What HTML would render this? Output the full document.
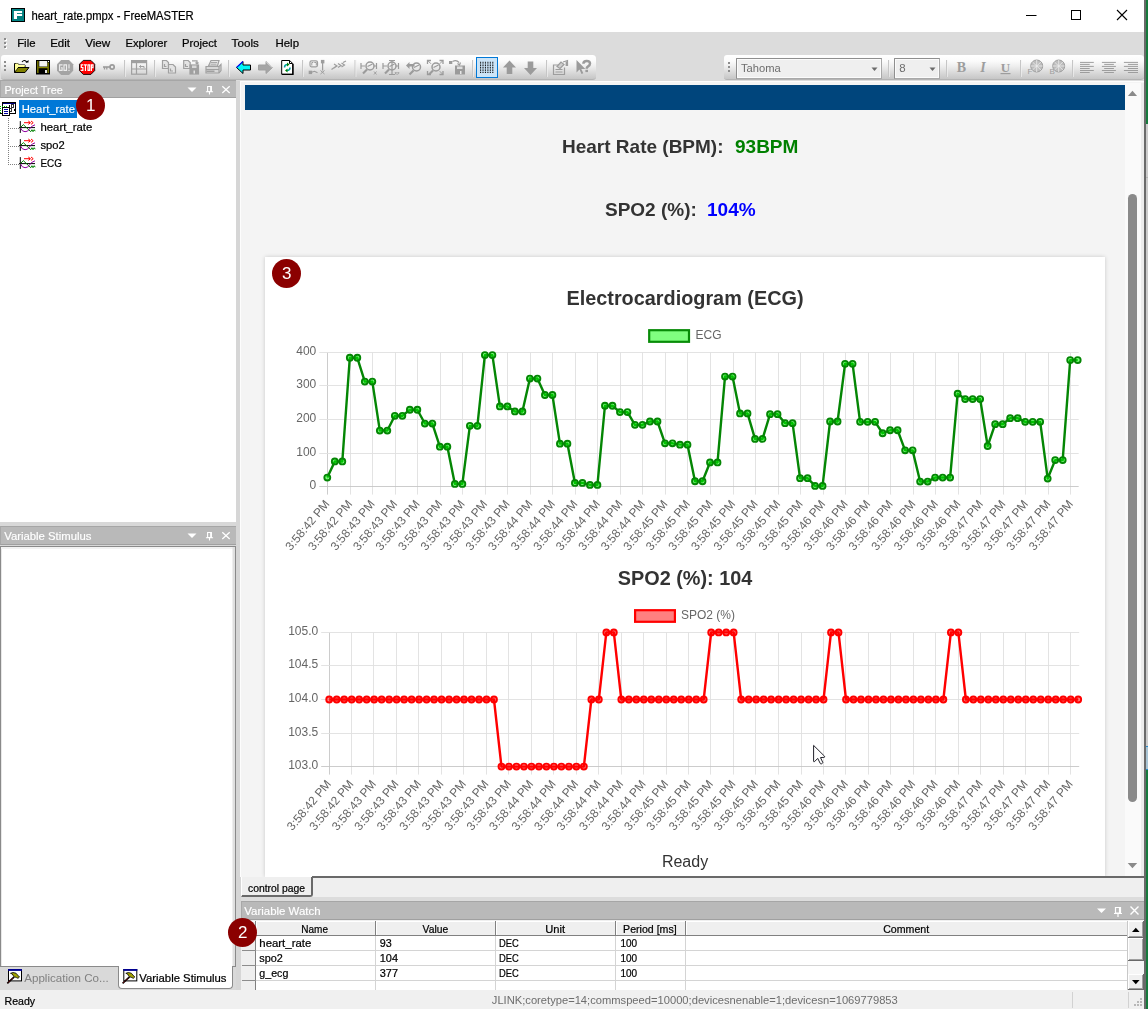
<!DOCTYPE html>
<html><head><meta charset="utf-8"><title>heart_rate.pmpx - FreeMASTER</title>
<style>
*{box-sizing:border-box;margin:0;padding:0}
html,body{width:1148px;height:1009px;overflow:hidden;background:#dcdcdc;font-family:"Liberation Sans",sans-serif;font-size:12px;color:#000}
.abs{position:absolute}
#app{position:absolute;left:0;top:0;width:1148px;height:1009px;overflow:hidden}
#titlebar{left:0;top:0;width:1145px;height:32px;background:#fff}
#title{left:31.4px;top:8.6px;font-size:12.5px;line-height:15px;white-space:nowrap;transform-origin:0 0;transform:scaleX(.903)}
#menubar{left:0;top:32px;width:1145px;height:23px;background:#dcdcdc}
.mi{position:absolute;top:4px;font-size:12px;line-height:15px;white-space:nowrap;transform-origin:0 0;transform:scaleX(.95)}
.tb{position:absolute;top:55px;height:24.8px;background:linear-gradient(#ffffff 0%,#fbfbfb 25%,#ececec 50%,#d6d6d6 78%,#c6c6c6 100%);border-bottom:1px solid #b4b4b4;border-radius:3px 3.5px 3.5px 3px}
.grip{position:absolute;width:3px}
.grip i{position:absolute;left:0;width:2px;height:2px;background:#8c8c8c;box-shadow:1px 1px 0 #fff}
.hdr{position:absolute;background:#b9b9b9;border-top:1px solid #a6a6a6;border-bottom:1px solid #a0a0a0;border-left:1px solid #a8a8a8;color:#f2f2f2;font-size:12px;line-height:15px;padding-left:4px;white-space:nowrap}
.tree{font-size:12px;line-height:15px;white-space:nowrap}
.marker{will-change:transform;position:absolute;width:29.4px;height:29.4px;border-radius:50%;background:#8b0000;color:#fff;font-size:17px;line-height:29.4px;text-align:center}
.tk{font-family:"Liberation Sans",sans-serif;font-size:12px;fill:#666}
.h3{will-change:transform;position:absolute;font-weight:bold;font-size:19px;line-height:22px;color:#333;white-space:nowrap}
.cell{position:absolute;font-size:11px;line-height:13px;white-space:nowrap}
</style></head><body>
<div id="app">

<!-- right desktop strip -->
<div class="abs" style="left:1145px;top:0;width:3px;height:1009px;background:#cbcbcb"></div>
<div class="abs" style="left:1145px;top:0;width:3px;height:123.5px;background:#157a3c"></div><div class="abs" style="left:1145px;top:177px;width:3px;height:1px;background:#b4b4b4"></div>
<div class="abs" style="left:1145px;top:746px;width:3px;height:24px;background:#a8c4d4;border-top:1px solid #2a8ac8;border-bottom:1px solid #2a8ac8"></div>
<div class="abs" style="left:1145px;top:770px;width:3px;height:239px;background:#157a3c"></div>

<!-- title bar -->
<div id="titlebar" class="abs"></div>
<svg class="abs" style="left:11px;top:8px" width="14" height="14" viewBox="0 0 14 14"><rect x="0" y="0" width="14" height="14" fill="#000"/><rect x="1" y="1" width="12" height="12" fill="#008a8a"/><rect x="1.600" y="1.600" width="10.800" height="10.800" fill="#007e7e"/><path d="M2.900 2.900H11.100V5H6V5.900H11.100V8H6V11.100H2.900Z" fill="#fff"/><rect x="6" y="5" width="5.100" height=".9" fill="#20908f"/></svg>
<svg class="abs" style="left:1020px;top:0" width="125" height="32" viewBox="0 0 125 32"><path d="M6 15.5h10.500" stroke="#000" stroke-width="1" fill="none"/><rect x="51.5" y="10.5" width="9" height="9" fill="none" stroke="#000"/><path d="M97 10l10 10M107 10l-10 10" stroke="#000" stroke-width="1.1" fill="none"/></svg>

<!-- menu bar -->
<div id="menubar" class="abs">
<div class="grip" style="left:4px;top:5.5px;height:14px"><i style="top:0"></i><i style="top:4px"></i><i style="top:8px"></i></div>
</div>

<!-- toolbars -->
<div class="tb" style="left:1px;width:594.8px"></div>
<div class="tb" style="left:724px;width:420px"></div>
<svg class="abs" style="left:0;top:55px" width="1145" height="25" viewBox="0 55 1145 25" shape-rendering="auto">
<defs>
<g id="sep"><rect x="0" y="60" width="1" height="17" fill="#c6c6c6"/><rect x="1" y="60" width="1" height="17" fill="#f4f4f4" opacity=".6"/></g>
<g id="grip3"><rect x="0" y="0" width="2" height="2" fill="#8e8e8e"/><rect x="0" y="4" width="2" height="2" fill="#8e8e8e"/><rect x="0" y="8" width="2" height="2" fill="#8e8e8e"/><rect x="1" y="1" width="2" height="2" fill="#fff" opacity=".0"/></g>
<g id="mag"><circle cx="9" cy="6" r="4" fill="none" stroke="#9b9b9b" stroke-width="1.5"/><path d="M6 9.500l-4 4" stroke="#9b9b9b" stroke-width="2.200"/><path d="M6.500 6.500l5-2.500" stroke="#9b9b9b" stroke-width="1.200"/></g>
</defs>
<!-- toolbar 1 -->
<use href="#grip3" x="4" y="61"/>
<!-- open folder -->
<g>
<path d="M14.500 72.500v-9h3.500l1 1.500h6v2.500" fill="#ffff7a" stroke="#000" stroke-width="1"/>
<path d="M14.500 72.500l3.500-5h11l-4 5z" fill="#808000" stroke="#000" stroke-width="1" stroke-linejoin="miter"/>
<path d="M15.500 71l2.800-4.500h6.500v-1.500h-6l-1-1.500h-2.300z" fill="#ffffa0"/>
<path d="M22 62q2.500-3 5 0.300" fill="none" stroke="#000" stroke-width="1.100"/><path d="M25.500 62.500h3v-2.500z" fill="#000"/>
</g>
<!-- floppy -->
<g>
<rect x="36.500" y="60.500" width="13" height="13.500" fill="#000" stroke="#000" stroke-width="1"/>
<rect x="37.200" y="61" width="1.300" height="12" fill="#8a8a00"/><rect x="47.500" y="62.500" width="1.300" height="10.500" fill="#8a8a00"/>
<rect x="38.500" y="66.800" width="9.500" height="1.400" fill="#8a8a00"/>
<rect x="39.300" y="61" width="7.900" height="5.500" fill="#f2f2f2"/>
<rect x="45" y="70" width="2" height="3" fill="#e6e6e6"/><rect x="48" y="61" width="1" height="1" fill="#fff"/>
</g>
<!-- GO -->
<g><path d="M61.200 60h7.800l4.200 4.200v6.500l-4.200 4.200h-7.800l-4.200-4.200v-6.500z" fill="#a4a4a4"/>
<path d="M62.600 64.800H59.600V70.300H62.100V67.700H61M64 64.800H66.500V70.300H64ZM69 64.200V68.500M69 69.700V70.900" fill="none" stroke="#ececec" stroke-width="1.150"/></g>
<!-- STOP -->
<g><path d="M83.300 60.400h7.600l3.800 3.800v6.400l-3.800 3.800h-7.600l-3.800-3.800v-6.400z" fill="#f00" stroke="#000" stroke-width=".9"/>
<path d="M83.400 64.800H81.300V67.500H82.900V70.300H80.700M84 64.800H86.900M85.450 64.800V70.900M88 64.800H89.700V70.300H88ZM91.400 70.900V64.800H93V67.700H91.400" fill="none" stroke="#fff" stroke-width="1.150"/></g>
<!-- key -->
<g fill="none" stroke="#9b9b9b"><circle cx="112.100" cy="67" r="2.100" stroke-width="1.700"/><path d="M103 67h7" stroke-width="1.600"/><path d="M104.500 67v2.600M106.800 67v2.400" stroke-width="1.300"/></g>
<use href="#sep" x="124"/>
<!-- layout icon -->
<g fill="none" stroke="#a0a0a0" stroke-width="1.200"><rect x="131.600" y="60.600" width="15" height="13.600"/><path d="M131.600 62h15" stroke-width="2.400"/><path d="M136.500 62.500v11.500M131.600 69h15"/><path d="M139.500 66.500h4.500v1.500M139.500 66.500l1.500-1.200M139.500 66.500l1.500 1.200" stroke-width="1"/></g>
<use href="#sep" x="154"/>
<!-- copy -->
<g fill="#e4e4e4" stroke="#a0a0a0" stroke-width="1.200"><path d="M162.500 60.500h4l2 2v6h-6z"/><path d="M168.500 64.500h4.500l2.500 2.500v6h-7z"/><path d="M164.500 64v2.500h2M170.500 68.500v2.500h2.500" fill="none"/></g>
<!-- copy to disk -->
<g fill="#e4e4e4" stroke="#a0a0a0" stroke-width="1.200"><path d="M183.700 60.500h4.500l2 2v6h-6.500z"/><path d="M185.500 64v2.500h2.500" fill="none"/><rect x="190" y="65" width="8.500" height="9" fill="#a0a0a0"/><path d="M192 60.800h5v2.500M195.500 62.500l1.500 1.500 1.500-1.500" fill="none"/><rect x="192" y="65.500" width="4.500" height="2.500" fill="#d8d8d8" stroke="none"/><rect x="193.500" y="70.500" width="1.500" height="3" fill="#e0e0e0" stroke="none"/></g>
<!-- printer -->
<g fill="#e6e6e6" stroke="#a0a0a0" stroke-width="1.200"><path d="M208.500 66l2.500-5.500h8l-1.500 5.500z"/><path d="M206 66.500h13l2-2v6l-2 2.500h-13z" fill="#d8d8d8"/><path d="M206 69.500h13M219 66.500v6.500" fill="none"/><path d="M211 62.500h6M210.500 64.200h6" stroke-width=".9"/><rect x="206.500" y="70.500" width="8" height="1.500" fill="#a0a0a0" stroke="none"/></g>
<use href="#sep" x="228"/>
<!-- back arrow -->
<path d="M236.500 67.500l6.500-6v3.500h7.500v5h-7.500v3.500z" fill="#00f6f6" stroke="#000" stroke-width="1" stroke-linejoin="miter"/><path d="M236.600 67.300l6.300-5.800" stroke="#0000ff" stroke-width="1.100"/>
<!-- forward arrow -->
<path d="M272.500 67.500l-6.500-6v3.500h-7.500v5h7.500v3.500z" fill="#a6a6a6" stroke="#a0a0a0" stroke-width="1"/><path d="M266.300 62l6 5.500" stroke="#e8e8e8" stroke-width="1"/>
<!-- refresh -->
<g><path d="M281.700 60.500h8l3 3v10.800h-11z" fill="#fff" stroke="#000" stroke-width="1"/><path d="M282 74.300h11v-10.300" fill="none" stroke="#000" stroke-width="1.300"/><path d="M289.500 60.500v3h3" fill="none" stroke="#000" stroke-width="1"/>
<path d="M284.500 67.500q0-3 3-3" fill="none" stroke="#00a0a0" stroke-width="1.500"/><path d="M287 62.500l2.500 2-2.500 2z" fill="#008000"/>
<path d="M290 67.500q0 3-3 3" fill="none" stroke="#00a0a0" stroke-width="1.500"/><path d="M287.500 68.500l-2.500 2 2.500 2z" fill="#008000"/></g>
<use href="#sep" x="302"/>
<!-- stimulus icon -->
<g fill="none" stroke="#9d9d9d" stroke-width="1.200"><rect x="310" y="60.800" width="7.500" height="6" rx="1.500"/><path d="M311.800 65.500v-3h1.500M314.300 62.500h2v3" stroke-width="1"/><rect x="309.300" y="71.300" width="2.200" height="2.200" fill="#9d9d9d"/><path d="M311.500 72.300l3-1 3 1.500M322.600 62v8.500" /><rect x="321.500" y="60.500" width="2.300" height="2.300" fill="#9d9d9d"/><path d="M320.500 70.500l4 3.500M324.500 70.500l-4 3.500" stroke-width="1"/></g>
<!-- >>> icon -->
<g fill="none" stroke="#9d9d9d" stroke-width="1.200"><path d="M331.500 69.500l5-3.500M334 64l3 2-3 2M338 63.500l3 2-3 2M341.500 63l3 2-3 2M343 62.500l3-1.500"/></g>
<use href="#sep" x="354.500"/>
<!-- zoom icons -->
<g transform="translate(361,60)"><use href="#mag"/><path d="M0 3v6M15.500 3v6M0 6h4M13 6h2.500" stroke="#9b9b9b" stroke-width="1.200" fill="none"/><path d="M13 11.500l2.500 3M15.500 11.500l-2.500 3" stroke="#9b9b9b" stroke-width=".9"/></g>
<g transform="translate(383,60)"><use href="#mag"/><path d="M0 3v6M15.500 3v6M0 6h4M13 6h2.500M6 .5h6M9 .5v14M6 14.500h6" stroke="#9b9b9b" stroke-width="1.200" fill="none"/><path d="M12 12l1.500 2.500M13.500 12l-1.500 2.500M14.500 12l1.200 1.500M16 12l-1.500 2.800" stroke="#9b9b9b" stroke-width=".8"/></g>
<g transform="translate(406,60)"><g transform="translate(1.500,1)"><use href="#mag"/></g><path d="M0 4.500l3.500 3.500v-2.500h5v-2.500h-5v-2z" fill="#9b9b9b" transform="translate(0,1)"/></g>
<g transform="translate(427.500,60)"><g transform="translate(-.5,1)"><use href="#mag"/></g><path d="M0 4v-3.500h3.500M12 .5h3.500v3.500M15.500 11v3.500h-3.500M3.500 14.500h-3.500v-3.500" fill="none" stroke="#9b9b9b" stroke-width="1.300"/><path d="M.5.800l3 3M15.200.8l-3 3M15.200 14.200l-3-3" stroke="#9b9b9b" stroke-width="1"/></g>
<g><rect x="449" y="61" width="3.300" height="3" fill="#9b9b9b"/><path d="M452.500 61.500q4-2 6.500 1M457.500 63.500l2 1.500 1-2.500" fill="none" stroke="#9b9b9b" stroke-width="1.200"/><rect x="455" y="65.500" width="10" height="9" fill="#9b9b9b"/><rect x="457" y="66.500" width="5.500" height="2.500" fill="#dedede"/><rect x="460" y="71" width="1.500" height="3" fill="#e6e6e6"/></g>
<use href="#sep" x="472"/>
<!-- selected grid btn -->
<rect x="476.500" y="57.500" width="21" height="20" fill="#cce4f7" stroke="#0078d7" stroke-width="1"/>
<g fill="#000" id="dots"></g>
<rect x="480.00" y="61.80" width="1.15" height="0.95" fill="#000"/><rect x="480.00" y="63.49" width="1.15" height="0.95" fill="#000"/><rect x="480.00" y="65.18" width="1.15" height="0.95" fill="#000"/><rect x="480.00" y="66.87" width="1.15" height="0.95" fill="#000"/><rect x="480.00" y="68.56" width="1.15" height="0.95" fill="#000"/><rect x="480.00" y="70.25" width="1.15" height="0.95" fill="#000"/><rect x="480.00" y="71.94" width="1.15" height="0.95" fill="#000"/><rect x="482.44" y="61.80" width="1.15" height="0.95" fill="#000"/><rect x="482.44" y="63.49" width="1.15" height="0.95" fill="#000"/><rect x="482.44" y="65.18" width="1.15" height="0.95" fill="#000"/><rect x="482.44" y="66.87" width="1.15" height="0.95" fill="#000"/><rect x="482.44" y="68.56" width="1.15" height="0.95" fill="#000"/><rect x="482.44" y="70.25" width="1.15" height="0.95" fill="#000"/><rect x="482.44" y="71.94" width="1.15" height="0.95" fill="#000"/><rect x="484.88" y="61.80" width="1.15" height="0.95" fill="#000"/><rect x="484.88" y="63.49" width="1.15" height="0.95" fill="#000"/><rect x="484.88" y="65.18" width="1.15" height="0.95" fill="#000"/><rect x="484.88" y="66.87" width="1.15" height="0.95" fill="#000"/><rect x="484.88" y="68.56" width="1.15" height="0.95" fill="#000"/><rect x="484.88" y="70.25" width="1.15" height="0.95" fill="#000"/><rect x="484.88" y="71.94" width="1.15" height="0.95" fill="#000"/><rect x="487.32" y="61.80" width="1.15" height="0.95" fill="#000"/><rect x="487.32" y="63.49" width="1.15" height="0.95" fill="#000"/><rect x="487.32" y="65.18" width="1.15" height="0.95" fill="#000"/><rect x="487.32" y="66.87" width="1.15" height="0.95" fill="#000"/><rect x="487.32" y="68.56" width="1.15" height="0.95" fill="#000"/><rect x="487.32" y="70.25" width="1.15" height="0.95" fill="#000"/><rect x="487.32" y="71.94" width="1.15" height="0.95" fill="#000"/><rect x="489.76" y="61.80" width="1.15" height="0.95" fill="#000"/><rect x="489.76" y="63.49" width="1.15" height="0.95" fill="#000"/><rect x="489.76" y="65.18" width="1.15" height="0.95" fill="#000"/><rect x="489.76" y="66.87" width="1.15" height="0.95" fill="#000"/><rect x="489.76" y="68.56" width="1.15" height="0.95" fill="#000"/><rect x="489.76" y="70.25" width="1.15" height="0.95" fill="#000"/><rect x="489.76" y="71.94" width="1.15" height="0.95" fill="#000"/><rect x="492.20" y="61.80" width="1.15" height="0.95" fill="#000"/><rect x="492.20" y="63.49" width="1.15" height="0.95" fill="#000"/><rect x="492.20" y="65.18" width="1.15" height="0.95" fill="#000"/><rect x="492.20" y="66.87" width="1.15" height="0.95" fill="#000"/><rect x="492.20" y="68.56" width="1.15" height="0.95" fill="#000"/><rect x="492.20" y="70.25" width="1.15" height="0.95" fill="#000"/><rect x="492.20" y="71.94" width="1.15" height="0.95" fill="#000"/>
<!-- up arrow -->
<path d="M509.500 60.500l6.500 7h-3.700v6.500h-5.600v-6.500h-3.700z" fill="#9b9b9b"/>
<!-- down arrow -->
<path d="M530.500 75l6.500-7h-3.700v-6.500h-5.600v6.500h-3.700z" fill="#9b9b9b"/>
<use href="#sep" x="546"/>
<!-- properties -->
<g fill="none" stroke="#9d9d9d" stroke-width="1.200"><path d="M559 65h-5.500v9.500h11v-7"/><path d="M555.500 69.500h7M555.500 72h7" stroke-width="1"/><path d="M557 66.500l4-4.500 3 2.500-4 4z" fill="#cfcfcf"/><path d="M563 62l4.500-1.500v5.500" /><path d="M566.500 61.500v4.500" stroke-width="1.800"/></g>
<!-- help pointer -->
<g><path d="M576.500 60v12.500l3-3 2 4.500 1.800-.8-2-4.300h4z" fill="#9b9b9b"/><path d="M583.400 63.800q0-2.900 3.300-2.900t3.300 2.700q0 1.700-1.900 2.800-1.400.8-1.400 2.300" fill="none" stroke="#9b9b9b" stroke-width="2.500"/><rect x="585.400" y="69.800" width="2.600" height="2.300" fill="#9b9b9b"/></g>

<!-- toolbar 2 -->
<use href="#grip3" x="728" y="62"/>
<rect x="736.500" y="58.500" width="145" height="20" fill="#efefef" stroke="#a9a9a9"/><path d="M736.500 78.500v-20h145" fill="none" stroke="#8f8f8f"/><rect x="737.500" y="59.500" width="143" height="18" fill="none" stroke="#fbfbfb" stroke-width="1"/>
<path d="M871.500 67.500h6l-3 3.500z" fill="#6a6a6a"/>
<use href="#sep" x="888"/>
<rect x="894.500" y="58.500" width="45" height="20" fill="#efefef" stroke="#a9a9a9"/><path d="M894.500 78.500v-20h45" fill="none" stroke="#8f8f8f"/><rect x="895.500" y="59.500" width="43" height="18" fill="none" stroke="#fbfbfb" stroke-width="1"/>
<path d="M929.500 67.500h6l-3 3.500z" fill="#6a6a6a"/>
<use href="#sep" x="946"/>
<text x="961.500" y="72" text-anchor="middle" font-family="Liberation Serif" font-weight="bold" font-size="14" fill="#9d9d9d">B</text>
<text x="983" y="72" text-anchor="middle" font-family="Liberation Serif" font-weight="bold" font-style="italic" font-size="14" fill="#9d9d9d">I</text>
<text x="1005.500" y="71.500" text-anchor="middle" font-family="Liberation Serif" font-weight="bold" font-size="13" fill="#9d9d9d">U</text><rect x="1000.500" y="73" width="10" height="1.200" fill="#9d9d9d"/>
<use href="#sep" x="1020"/>
<g><circle cx="1036.7" cy="66" r="6" fill="#bdbdbd" stroke="#9d9d9d" stroke-width="1"/><path d="M1030.700 66h12M1036.700 60v12M1032.500 62l8.400 8M1040.900 62l-8.400 8" stroke="#ededed" stroke-width=".8"/><text x="1027.500" y="74.300" font-family="Liberation Sans" font-size="8" fill="#9d9d9d">F</text></g>
<g><circle cx="1058.700" cy="66" r="6" fill="#bdbdbd" stroke="#9d9d9d" stroke-width="1"/><path d="M1052.700 66h12M1058.700 60v12M1054.500 62l8.400 8M1062.900 62l-8.400 8" stroke="#ededed" stroke-width=".8"/><text x="1049.600" y="74.300" font-family="Liberation Sans" font-size="8" fill="#9d9d9d">B</text></g>
<use href="#sep" x="1072"/>
<g stroke="#9d9d9d" stroke-width="1" fill="none"><path d="M1080 62.4H1093.8M1080 64.4H1089.7M1080 66.4H1093.8M1080 68.5H1089.7M1080 70.5H1093.8M1080 72.5H1089.7"/><path d="M1101.9 62.4H1115.9M1104.2 64.4H1113.9M1101.9 66.4H1115.9M1104.2 68.5H1113.9M1101.9 70.5H1115.9M1104.2 72.5H1113.9"/><path d="M1123.9 62.4H1138M1127.9 64.4H1138M1123.9 66.4H1138M1127.9 68.5H1138M1123.9 70.5H1138M1127.9 72.5H1138"/></g>
</svg>


<!-- left dock -->
<div class="hdr" style="left:0;top:80px;width:235.700px;height:18.400px"></div>
<div class="abs" style="left:0;top:98px;width:236.2px;height:424px;background:#fff"></div>
<div class="abs" style="left:0;top:522px;width:236px;height:25px;background:#d8d8d8"></div>
<div class="hdr" style="left:0;top:526px;width:235.7px;height:19px"></div>
<div class="abs" style="left:0;top:546.4px;width:235.8px;height:420.5px;background:#fff;border:1px solid #8a8a8a;box-shadow:inset -2.5px 0 0 #e0e0e0,inset 0 2px 0 #f2f2f2,inset 1px 0 0 #e8e8e8"></div>
<svg class="abs" style="left:0;top:98px" width="236" height="80" viewBox="0 98 236 80">
<defs>
<g id="vicon">
<path d="M1.300 .1v11.800" stroke="#000" stroke-width="1" fill="none"/><path d="M0 6.600h16" stroke="#000" stroke-width="1" fill="none"/>
<path d="M5 1.700h6M9.300 0l2.200 1.700-2.200 1.700M12 0l2.200 1.700-2.200 1.700" stroke="#ff0000" stroke-width="1" fill="none"/>
<path d="M1.500 6.500l2.800-2.900 7.400 7.100 1.200-2 1.100 2 1.200-2 1 1.500" stroke="#008000" stroke-width="1" fill="none"/>
<path d="M1.500 7q1.500 3.700 4.500 3.700t4-2.200q1.500-2 3-3.200l3-1.500" stroke="#9000a0" stroke-width="1" fill="none"/>
</g>
</defs>
<rect x="19" y="100" width="58" height="18" fill="#0078d7"/>
<!-- root icon -->
<g shape-rendering="crispEdges">
<rect x="2.500" y="102.500" width="13" height="10.500" fill="#fff" stroke="#000" stroke-width="1"/>
<rect x="3" y="103" width="12" height="1" fill="#000080"/>
<rect x="9" y="105" width="1" height="2" fill="#000"/><rect x="11.500" y="104.500" width="2" height="2.500" fill="none" stroke="#000" stroke-width=".8"/>
<rect x="9.500" y="108.500" width="2" height="2.500" fill="none" stroke="#000" stroke-width=".8"/><rect x="13.500" y="108.500" width="1" height="2.500" fill="#000"/>
<rect x="2.500" y="107.500" width="7" height="8" fill="#fff" stroke="#000" stroke-width="1"/>
<path d="M4 109.500h4M4 111.500h4M4 113.500h4" stroke="#0000a0" stroke-width="1"/>
<path d="M.5 113v-7h6.500" fill="none" stroke="#00c000" stroke-width="1" stroke-dasharray="1 1"/>
<path d="M0 113.500h2.500" stroke="#000" stroke-width="1"/>
</g>
<path d="M8.500 118v47" stroke="#808080" stroke-width="1" stroke-dasharray="1 1" fill="none" shape-rendering="crispEdges"/>
<path d="M10 128.500h9M10 146.500h9M10 164.500h9" stroke="#808080" stroke-width="1" stroke-dasharray="1 1" fill="none" shape-rendering="crispEdges"/>
<use href="#vicon" x="19" y="121"/><use href="#vicon" x="19" y="139"/><use href="#vicon" x="19" y="157"/>
</svg>

<!-- dock header buttons -->
<svg class="abs" style="left:180px;top:81px" width="56" height="18" viewBox="180 81 56 18"><path d="M187.5 87.5h9l-4.5 4.5z" fill="#fff"/><path d="M207.6 86.5h3.8v5h-3.800z" fill="none" stroke="#fff" stroke-width="1.1"/><path d="M210.8 86.5v5" stroke="#fff" stroke-width="1.3"/><path d="M205.900 91.8h7.200M209.500 92v2.400" fill="none" stroke="#fff" stroke-width="1.1"/><path d="M222.300 86.3l7.400 6.700M229.700 86.3l-7.400 6.700" stroke="#fff" stroke-width="1.25"/></svg>
<svg class="abs" style="left:180px;top:527px" width="56" height="18" viewBox="180 527 56 18"><path d="M187.5 533.5h9l-4.5 4.5z" fill="#fff"/><path d="M207.6 532.5h3.8v5h-3.800z" fill="none" stroke="#fff" stroke-width="1.1"/><path d="M210.8 532.5v5" stroke="#fff" stroke-width="1.3"/><path d="M205.900 537.8h7.200M209.500 538v2.400" fill="none" stroke="#fff" stroke-width="1.1"/><path d="M222.300 532.3l7.400 6.700M229.700 532.3l-7.400 6.700" stroke="#fff" stroke-width="1.25"/></svg>

<!-- bottom tabs -->
<div class="abs" style="left:0;top:967px;width:236px;height:24px;background:#d9d9d9"></div>
<div class="abs" style="left:117.500px;top:966px;width:115px;height:22.500px;background:#fff;border:1px solid #8a8a8a;border-top:none;border-radius:0 0 4px 4px"></div>
<svg class="abs" style="left:0;top:966px" width="236" height="24" viewBox="0 966 236 24">
<defs><g id="ham"><rect x="1.500" y=".5" width="13" height="11.400" fill="#fff" stroke="#000" stroke-width="1"/><rect x="1" y="0" width="14" height="1.900" fill="#000090"/><path d="M.3 14.300L7.200 7.900" stroke="#000" stroke-width="1.700"/><path d="M.8 13.800L6.800 8.300" stroke="#b00000" stroke-width=".8" stroke-dasharray="1 1"/><path d="M3.500 4.300L6 3.500L9 4.200L11.500 7L12.500 8L11 9.300L9.500 8.600L7.500 7.800L6 6.500L5.300 5Z" fill="#a0a000" stroke="#000" stroke-width=".8"/></g></defs>
<use href="#ham" x="7" y="969"/><use href="#ham" x="122.300" y="969"/>
</svg>


<!-- splitter -->
<div class="abs" style="left:236px;top:81px;width:5px;height:910px;background:#d6d6d6"></div>

<!-- main view -->
<div class="abs" style="left:239.7px;top:80.6px;width:904.3px;height:796.4px;background:#f4f4f4;border-left:1.6px solid #fdfdfd;border-top:1.6px solid #fdfdfd"></div>
<div class="abs" style="left:245px;top:85px;width:880px;height:25px;background:#00457c"></div>
<div class="abs" style="left:265px;top:257px;width:840px;height:620px;background:#fff;box-shadow:0 0 4px rgba(0,0,0,.18)"></div>
<div class="abs" style="left:1125px;top:83px;width:16px;height:794px;background:#fafafa"></div>
<div class="abs" style="left:1141px;top:83px;width:3px;height:794px;background:#ececec"></div>
<div class="abs" style="left:1128.1px;top:193.7px;width:8.9px;height:608.3px;background:#8a8a8a;border-radius:4.5px"></div>
<svg class="abs" style="left:1125px;top:83px" width="16" height="794" viewBox="0 0 16 794"><path d="M2.900 12.900L7.500 7.700L12.100 12.900z" fill="#8a8a8a"/><path d="M2.700 780.100L7.450 785.200L12.200 780.100z" fill="#8a8a8a"/></svg>

<div class="h3" style="left:562px;top:135.6px">Heart Rate (BPM):</div>
<div class="h3" style="left:735px;top:135.6px;color:#008000">93BPM</div>
<div class="h3" style="left:604.5px;top:198.7px">SPO2 (%):</div>
<div class="h3" style="left:707.3px;top:198.7px;color:#0000ff">104%</div>
<div class="h3" style="left:385px;width:600px;text-align:center;top:286.5px;font-size:19.85px"><span id="ttl1">Electrocardiogram (ECG)</span></div>
<div class="h3" style="left:385px;width:600px;text-align:center;top:566.5px;font-size:19.85px"><span id="ttl2">SPO2 (%): 104</span></div>
<div class="abs" style="left:385px;width:600px;text-align:center;top:852.8px;font-size:16px;line-height:18px;color:#333;will-change:transform">Ready</div>

<svg class="abs" style="left:0;top:0;will-change:transform" width="1148" height="877" viewBox="0 0 1148 877">
<rect x="649.2" y="330.2" width="39.8" height="11.6" fill="#80ff80" stroke="#088c08" stroke-width="2.2"/>
<text x="695.500" y="339" class="tk">ECG</text>
<rect x="635.1" y="610.2" width="39.8" height="11.6" fill="#ff8080" stroke="#ff0000" stroke-width="2.2"/>
<text x="681" y="619" class="tk">SPO2 (%)</text>
<line x1="327.50" y1="352.40" x2="327.50" y2="494.60" stroke="#c6c6c6" stroke-width="0.9"/>
<line x1="350.50" y1="352.40" x2="350.50" y2="494.60" stroke="#e0e0e0" stroke-width="0.9"/>
<line x1="372.50" y1="352.40" x2="372.50" y2="494.60" stroke="#e0e0e0" stroke-width="0.9"/>
<line x1="395.50" y1="352.40" x2="395.50" y2="494.60" stroke="#e0e0e0" stroke-width="0.9"/>
<line x1="417.50" y1="352.40" x2="417.50" y2="494.60" stroke="#e0e0e0" stroke-width="0.9"/>
<line x1="440.50" y1="352.40" x2="440.50" y2="494.60" stroke="#e0e0e0" stroke-width="0.9"/>
<line x1="462.50" y1="352.40" x2="462.50" y2="494.60" stroke="#e0e0e0" stroke-width="0.9"/>
<line x1="485.50" y1="352.40" x2="485.50" y2="494.60" stroke="#e0e0e0" stroke-width="0.9"/>
<line x1="507.50" y1="352.40" x2="507.50" y2="494.60" stroke="#e0e0e0" stroke-width="0.9"/>
<line x1="530.50" y1="352.40" x2="530.50" y2="494.60" stroke="#e0e0e0" stroke-width="0.9"/>
<line x1="552.50" y1="352.40" x2="552.50" y2="494.60" stroke="#e0e0e0" stroke-width="0.9"/>
<line x1="575.50" y1="352.40" x2="575.50" y2="494.60" stroke="#e0e0e0" stroke-width="0.9"/>
<line x1="597.50" y1="352.40" x2="597.50" y2="494.60" stroke="#e0e0e0" stroke-width="0.9"/>
<line x1="620.50" y1="352.40" x2="620.50" y2="494.60" stroke="#e0e0e0" stroke-width="0.9"/>
<line x1="642.50" y1="352.40" x2="642.50" y2="494.60" stroke="#e0e0e0" stroke-width="0.9"/>
<line x1="665.50" y1="352.40" x2="665.50" y2="494.60" stroke="#e0e0e0" stroke-width="0.9"/>
<line x1="687.50" y1="352.40" x2="687.50" y2="494.60" stroke="#e0e0e0" stroke-width="0.9"/>
<line x1="710.50" y1="352.40" x2="710.50" y2="494.60" stroke="#e0e0e0" stroke-width="0.9"/>
<line x1="733.50" y1="352.40" x2="733.50" y2="494.60" stroke="#e0e0e0" stroke-width="0.9"/>
<line x1="755.50" y1="352.40" x2="755.50" y2="494.60" stroke="#e0e0e0" stroke-width="0.9"/>
<line x1="778.50" y1="352.40" x2="778.50" y2="494.60" stroke="#e0e0e0" stroke-width="0.9"/>
<line x1="800.50" y1="352.40" x2="800.50" y2="494.60" stroke="#e0e0e0" stroke-width="0.9"/>
<line x1="823.50" y1="352.40" x2="823.50" y2="494.60" stroke="#e0e0e0" stroke-width="0.9"/>
<line x1="845.50" y1="352.40" x2="845.50" y2="494.60" stroke="#e0e0e0" stroke-width="0.9"/>
<line x1="868.50" y1="352.40" x2="868.50" y2="494.60" stroke="#e0e0e0" stroke-width="0.9"/>
<line x1="890.50" y1="352.40" x2="890.50" y2="494.60" stroke="#e0e0e0" stroke-width="0.9"/>
<line x1="913.50" y1="352.40" x2="913.50" y2="494.60" stroke="#e0e0e0" stroke-width="0.9"/>
<line x1="935.50" y1="352.40" x2="935.50" y2="494.60" stroke="#e0e0e0" stroke-width="0.9"/>
<line x1="958.50" y1="352.40" x2="958.50" y2="494.60" stroke="#e0e0e0" stroke-width="0.9"/>
<line x1="980.50" y1="352.40" x2="980.50" y2="494.60" stroke="#e0e0e0" stroke-width="0.9"/>
<line x1="1003.50" y1="352.40" x2="1003.50" y2="494.60" stroke="#e0e0e0" stroke-width="0.9"/>
<line x1="1025.50" y1="352.40" x2="1025.50" y2="494.60" stroke="#e0e0e0" stroke-width="0.9"/>
<line x1="1048.50" y1="352.40" x2="1048.50" y2="494.60" stroke="#e0e0e0" stroke-width="0.9"/>
<line x1="1070.50" y1="352.40" x2="1070.50" y2="494.60" stroke="#e0e0e0" stroke-width="0.9"/>
<line x1="319.30" y1="486.50" x2="1078.70" y2="486.50" stroke="#c6c6c6" stroke-width="0.9"/>
<text x="316.30" y="489.30" text-anchor="end" class="tk">0</text>
<line x1="319.30" y1="453.50" x2="1078.70" y2="453.50" stroke="#e0e0e0" stroke-width="0.9"/>
<text x="316.30" y="456.30" text-anchor="end" class="tk">100</text>
<line x1="319.30" y1="419.50" x2="1078.70" y2="419.50" stroke="#e0e0e0" stroke-width="0.9"/>
<text x="316.30" y="422.30" text-anchor="end" class="tk">200</text>
<line x1="319.30" y1="385.50" x2="1078.70" y2="385.50" stroke="#e0e0e0" stroke-width="0.9"/>
<text x="316.30" y="388.30" text-anchor="end" class="tk">300</text>
<line x1="319.30" y1="352.50" x2="1078.70" y2="352.50" stroke="#e0e0e0" stroke-width="0.9"/>
<text x="316.30" y="355.30" text-anchor="end" class="tk">400</text>
<text transform="translate(330.30,504.30) rotate(-50)" text-anchor="end" class="tk">3:58:42 PM</text>
<text transform="translate(352.83,504.30) rotate(-50)" text-anchor="end" class="tk">3:58:42 PM</text>
<text transform="translate(375.36,504.30) rotate(-50)" text-anchor="end" class="tk">3:58:43 PM</text>
<text transform="translate(397.89,504.30) rotate(-50)" text-anchor="end" class="tk">3:58:43 PM</text>
<text transform="translate(420.42,504.30) rotate(-50)" text-anchor="end" class="tk">3:58:43 PM</text>
<text transform="translate(442.95,504.30) rotate(-50)" text-anchor="end" class="tk">3:58:43 PM</text>
<text transform="translate(465.48,504.30) rotate(-50)" text-anchor="end" class="tk">3:58:43 PM</text>
<text transform="translate(488.01,504.30) rotate(-50)" text-anchor="end" class="tk">3:58:43 PM</text>
<text transform="translate(510.54,504.30) rotate(-50)" text-anchor="end" class="tk">3:58:43 PM</text>
<text transform="translate(533.07,504.30) rotate(-50)" text-anchor="end" class="tk">3:58:44 PM</text>
<text transform="translate(555.60,504.30) rotate(-50)" text-anchor="end" class="tk">3:58:44 PM</text>
<text transform="translate(578.13,504.30) rotate(-50)" text-anchor="end" class="tk">3:58:44 PM</text>
<text transform="translate(600.66,504.30) rotate(-50)" text-anchor="end" class="tk">3:58:44 PM</text>
<text transform="translate(623.19,504.30) rotate(-50)" text-anchor="end" class="tk">3:58:44 PM</text>
<text transform="translate(645.72,504.30) rotate(-50)" text-anchor="end" class="tk">3:58:44 PM</text>
<text transform="translate(668.25,504.30) rotate(-50)" text-anchor="end" class="tk">3:58:45 PM</text>
<text transform="translate(690.78,504.30) rotate(-50)" text-anchor="end" class="tk">3:58:45 PM</text>
<text transform="translate(713.31,504.30) rotate(-50)" text-anchor="end" class="tk">3:58:45 PM</text>
<text transform="translate(735.84,504.30) rotate(-50)" text-anchor="end" class="tk">3:58:45 PM</text>
<text transform="translate(758.37,504.30) rotate(-50)" text-anchor="end" class="tk">3:58:45 PM</text>
<text transform="translate(780.90,504.30) rotate(-50)" text-anchor="end" class="tk">3:58:45 PM</text>
<text transform="translate(803.43,504.30) rotate(-50)" text-anchor="end" class="tk">3:58:45 PM</text>
<text transform="translate(825.96,504.30) rotate(-50)" text-anchor="end" class="tk">3:58:46 PM</text>
<text transform="translate(848.49,504.30) rotate(-50)" text-anchor="end" class="tk">3:58:46 PM</text>
<text transform="translate(871.02,504.30) rotate(-50)" text-anchor="end" class="tk">3:58:46 PM</text>
<text transform="translate(893.55,504.30) rotate(-50)" text-anchor="end" class="tk">3:58:46 PM</text>
<text transform="translate(916.08,504.30) rotate(-50)" text-anchor="end" class="tk">3:58:46 PM</text>
<text transform="translate(938.61,504.30) rotate(-50)" text-anchor="end" class="tk">3:58:46 PM</text>
<text transform="translate(961.14,504.30) rotate(-50)" text-anchor="end" class="tk">3:58:46 PM</text>
<text transform="translate(983.67,504.30) rotate(-50)" text-anchor="end" class="tk">3:58:47 PM</text>
<text transform="translate(1006.20,504.30) rotate(-50)" text-anchor="end" class="tk">3:58:47 PM</text>
<text transform="translate(1028.73,504.30) rotate(-50)" text-anchor="end" class="tk">3:58:47 PM</text>
<text transform="translate(1051.26,504.30) rotate(-50)" text-anchor="end" class="tk">3:58:47 PM</text>
<text transform="translate(1073.79,504.30) rotate(-50)" text-anchor="end" class="tk">3:58:47 PM</text>
<polyline points="327.30,477.54 334.80,461.44 342.31,461.44 349.81,357.77 357.32,357.77 364.82,381.59 372.32,381.59 379.83,430.57 387.33,430.57 394.84,415.81 402.34,415.81 409.84,409.77 417.35,409.77 424.85,423.53 432.36,423.53 439.86,446.68 447.36,446.68 454.87,483.92 462.37,483.92 469.88,425.87 477.38,425.87 484.88,355.08 492.39,355.08 499.89,406.42 507.40,406.42 514.90,411.45 522.40,411.45 529.91,378.57 537.41,378.57 544.92,395.01 552.42,395.01 559.92,443.66 567.43,443.66 574.93,482.91 582.44,482.91 589.94,484.92 597.44,484.92 604.95,405.74 612.45,405.74 619.96,412.12 627.46,412.12 634.96,424.87 642.47,424.87 649.97,421.51 657.48,421.51 664.98,443.32 672.48,443.32 679.99,444.66 687.49,444.66 695.00,481.23 702.50,481.23 710.00,462.44 717.51,462.44 725.01,376.56 732.52,376.56 740.02,413.46 747.52,413.46 755.03,438.96 762.53,438.96 770.04,414.13 777.54,414.13 785.04,423.19 792.55,423.19 800.05,478.21 807.56,478.21 815.06,485.93 822.56,485.93 830.07,421.51 837.57,421.51 845.08,363.81 852.58,363.81 860.08,421.85 867.59,421.85 875.09,421.85 882.60,433.26 890.10,430.24 897.60,430.24 905.11,450.37 912.61,450.37 920.12,481.57 927.62,481.57 935.12,477.54 942.63,477.54 950.13,477.54 957.64,393.67 965.14,399.03 972.64,399.03 980.15,399.03 987.65,446.00 995.16,424.20 1002.66,424.20 1010.16,418.16 1017.67,418.16 1025.17,421.85 1032.68,421.85 1040.18,421.85 1047.68,478.55 1055.19,460.10 1062.69,460.10 1070.20,360.12 1077.70,360.12" fill="none" stroke="#048604" stroke-width="2.4" stroke-linejoin="round"/>
<circle cx="327.30" cy="477.54" r="2.95" fill="#00ff00" fill-opacity="0.5" stroke="#048604" stroke-width="1.9"/>
<circle cx="334.80" cy="461.44" r="2.95" fill="#00ff00" fill-opacity="0.5" stroke="#048604" stroke-width="1.9"/>
<circle cx="342.31" cy="461.44" r="2.95" fill="#00ff00" fill-opacity="0.5" stroke="#048604" stroke-width="1.9"/>
<circle cx="349.81" cy="357.77" r="2.95" fill="#00ff00" fill-opacity="0.5" stroke="#048604" stroke-width="1.9"/>
<circle cx="357.32" cy="357.77" r="2.95" fill="#00ff00" fill-opacity="0.5" stroke="#048604" stroke-width="1.9"/>
<circle cx="364.82" cy="381.59" r="2.95" fill="#00ff00" fill-opacity="0.5" stroke="#048604" stroke-width="1.9"/>
<circle cx="372.32" cy="381.59" r="2.95" fill="#00ff00" fill-opacity="0.5" stroke="#048604" stroke-width="1.9"/>
<circle cx="379.83" cy="430.57" r="2.95" fill="#00ff00" fill-opacity="0.5" stroke="#048604" stroke-width="1.9"/>
<circle cx="387.33" cy="430.57" r="2.95" fill="#00ff00" fill-opacity="0.5" stroke="#048604" stroke-width="1.9"/>
<circle cx="394.84" cy="415.81" r="2.95" fill="#00ff00" fill-opacity="0.5" stroke="#048604" stroke-width="1.9"/>
<circle cx="402.34" cy="415.81" r="2.95" fill="#00ff00" fill-opacity="0.5" stroke="#048604" stroke-width="1.9"/>
<circle cx="409.84" cy="409.77" r="2.95" fill="#00ff00" fill-opacity="0.5" stroke="#048604" stroke-width="1.9"/>
<circle cx="417.35" cy="409.77" r="2.95" fill="#00ff00" fill-opacity="0.5" stroke="#048604" stroke-width="1.9"/>
<circle cx="424.85" cy="423.53" r="2.95" fill="#00ff00" fill-opacity="0.5" stroke="#048604" stroke-width="1.9"/>
<circle cx="432.36" cy="423.53" r="2.95" fill="#00ff00" fill-opacity="0.5" stroke="#048604" stroke-width="1.9"/>
<circle cx="439.86" cy="446.68" r="2.95" fill="#00ff00" fill-opacity="0.5" stroke="#048604" stroke-width="1.9"/>
<circle cx="447.36" cy="446.68" r="2.95" fill="#00ff00" fill-opacity="0.5" stroke="#048604" stroke-width="1.9"/>
<circle cx="454.87" cy="483.92" r="2.95" fill="#00ff00" fill-opacity="0.5" stroke="#048604" stroke-width="1.9"/>
<circle cx="462.37" cy="483.92" r="2.95" fill="#00ff00" fill-opacity="0.5" stroke="#048604" stroke-width="1.9"/>
<circle cx="469.88" cy="425.87" r="2.95" fill="#00ff00" fill-opacity="0.5" stroke="#048604" stroke-width="1.9"/>
<circle cx="477.38" cy="425.87" r="2.95" fill="#00ff00" fill-opacity="0.5" stroke="#048604" stroke-width="1.9"/>
<circle cx="484.88" cy="355.08" r="2.95" fill="#00ff00" fill-opacity="0.5" stroke="#048604" stroke-width="1.9"/>
<circle cx="492.39" cy="355.08" r="2.95" fill="#00ff00" fill-opacity="0.5" stroke="#048604" stroke-width="1.9"/>
<circle cx="499.89" cy="406.42" r="2.95" fill="#00ff00" fill-opacity="0.5" stroke="#048604" stroke-width="1.9"/>
<circle cx="507.40" cy="406.42" r="2.95" fill="#00ff00" fill-opacity="0.5" stroke="#048604" stroke-width="1.9"/>
<circle cx="514.90" cy="411.45" r="2.95" fill="#00ff00" fill-opacity="0.5" stroke="#048604" stroke-width="1.9"/>
<circle cx="522.40" cy="411.45" r="2.95" fill="#00ff00" fill-opacity="0.5" stroke="#048604" stroke-width="1.9"/>
<circle cx="529.91" cy="378.57" r="2.95" fill="#00ff00" fill-opacity="0.5" stroke="#048604" stroke-width="1.9"/>
<circle cx="537.41" cy="378.57" r="2.95" fill="#00ff00" fill-opacity="0.5" stroke="#048604" stroke-width="1.9"/>
<circle cx="544.92" cy="395.01" r="2.95" fill="#00ff00" fill-opacity="0.5" stroke="#048604" stroke-width="1.9"/>
<circle cx="552.42" cy="395.01" r="2.95" fill="#00ff00" fill-opacity="0.5" stroke="#048604" stroke-width="1.9"/>
<circle cx="559.92" cy="443.66" r="2.95" fill="#00ff00" fill-opacity="0.5" stroke="#048604" stroke-width="1.9"/>
<circle cx="567.43" cy="443.66" r="2.95" fill="#00ff00" fill-opacity="0.5" stroke="#048604" stroke-width="1.9"/>
<circle cx="574.93" cy="482.91" r="2.95" fill="#00ff00" fill-opacity="0.5" stroke="#048604" stroke-width="1.9"/>
<circle cx="582.44" cy="482.91" r="2.95" fill="#00ff00" fill-opacity="0.5" stroke="#048604" stroke-width="1.9"/>
<circle cx="589.94" cy="484.92" r="2.95" fill="#00ff00" fill-opacity="0.5" stroke="#048604" stroke-width="1.9"/>
<circle cx="597.44" cy="484.92" r="2.95" fill="#00ff00" fill-opacity="0.5" stroke="#048604" stroke-width="1.9"/>
<circle cx="604.95" cy="405.74" r="2.95" fill="#00ff00" fill-opacity="0.5" stroke="#048604" stroke-width="1.9"/>
<circle cx="612.45" cy="405.74" r="2.95" fill="#00ff00" fill-opacity="0.5" stroke="#048604" stroke-width="1.9"/>
<circle cx="619.96" cy="412.12" r="2.95" fill="#00ff00" fill-opacity="0.5" stroke="#048604" stroke-width="1.9"/>
<circle cx="627.46" cy="412.12" r="2.95" fill="#00ff00" fill-opacity="0.5" stroke="#048604" stroke-width="1.9"/>
<circle cx="634.96" cy="424.87" r="2.95" fill="#00ff00" fill-opacity="0.5" stroke="#048604" stroke-width="1.9"/>
<circle cx="642.47" cy="424.87" r="2.95" fill="#00ff00" fill-opacity="0.5" stroke="#048604" stroke-width="1.9"/>
<circle cx="649.97" cy="421.51" r="2.95" fill="#00ff00" fill-opacity="0.5" stroke="#048604" stroke-width="1.9"/>
<circle cx="657.48" cy="421.51" r="2.95" fill="#00ff00" fill-opacity="0.5" stroke="#048604" stroke-width="1.9"/>
<circle cx="664.98" cy="443.32" r="2.95" fill="#00ff00" fill-opacity="0.5" stroke="#048604" stroke-width="1.9"/>
<circle cx="672.48" cy="443.32" r="2.95" fill="#00ff00" fill-opacity="0.5" stroke="#048604" stroke-width="1.9"/>
<circle cx="679.99" cy="444.66" r="2.95" fill="#00ff00" fill-opacity="0.5" stroke="#048604" stroke-width="1.9"/>
<circle cx="687.49" cy="444.66" r="2.95" fill="#00ff00" fill-opacity="0.5" stroke="#048604" stroke-width="1.9"/>
<circle cx="695.00" cy="481.23" r="2.95" fill="#00ff00" fill-opacity="0.5" stroke="#048604" stroke-width="1.9"/>
<circle cx="702.50" cy="481.23" r="2.95" fill="#00ff00" fill-opacity="0.5" stroke="#048604" stroke-width="1.9"/>
<circle cx="710.00" cy="462.44" r="2.95" fill="#00ff00" fill-opacity="0.5" stroke="#048604" stroke-width="1.9"/>
<circle cx="717.51" cy="462.44" r="2.95" fill="#00ff00" fill-opacity="0.5" stroke="#048604" stroke-width="1.9"/>
<circle cx="725.01" cy="376.56" r="2.95" fill="#00ff00" fill-opacity="0.5" stroke="#048604" stroke-width="1.9"/>
<circle cx="732.52" cy="376.56" r="2.95" fill="#00ff00" fill-opacity="0.5" stroke="#048604" stroke-width="1.9"/>
<circle cx="740.02" cy="413.46" r="2.95" fill="#00ff00" fill-opacity="0.5" stroke="#048604" stroke-width="1.9"/>
<circle cx="747.52" cy="413.46" r="2.95" fill="#00ff00" fill-opacity="0.5" stroke="#048604" stroke-width="1.9"/>
<circle cx="755.03" cy="438.96" r="2.95" fill="#00ff00" fill-opacity="0.5" stroke="#048604" stroke-width="1.9"/>
<circle cx="762.53" cy="438.96" r="2.95" fill="#00ff00" fill-opacity="0.5" stroke="#048604" stroke-width="1.9"/>
<circle cx="770.04" cy="414.13" r="2.95" fill="#00ff00" fill-opacity="0.5" stroke="#048604" stroke-width="1.9"/>
<circle cx="777.54" cy="414.13" r="2.95" fill="#00ff00" fill-opacity="0.5" stroke="#048604" stroke-width="1.9"/>
<circle cx="785.04" cy="423.19" r="2.95" fill="#00ff00" fill-opacity="0.5" stroke="#048604" stroke-width="1.9"/>
<circle cx="792.55" cy="423.19" r="2.95" fill="#00ff00" fill-opacity="0.5" stroke="#048604" stroke-width="1.9"/>
<circle cx="800.05" cy="478.21" r="2.95" fill="#00ff00" fill-opacity="0.5" stroke="#048604" stroke-width="1.9"/>
<circle cx="807.56" cy="478.21" r="2.95" fill="#00ff00" fill-opacity="0.5" stroke="#048604" stroke-width="1.9"/>
<circle cx="815.06" cy="485.93" r="2.95" fill="#00ff00" fill-opacity="0.5" stroke="#048604" stroke-width="1.9"/>
<circle cx="822.56" cy="485.93" r="2.95" fill="#00ff00" fill-opacity="0.5" stroke="#048604" stroke-width="1.9"/>
<circle cx="830.07" cy="421.51" r="2.95" fill="#00ff00" fill-opacity="0.5" stroke="#048604" stroke-width="1.9"/>
<circle cx="837.57" cy="421.51" r="2.95" fill="#00ff00" fill-opacity="0.5" stroke="#048604" stroke-width="1.9"/>
<circle cx="845.08" cy="363.81" r="2.95" fill="#00ff00" fill-opacity="0.5" stroke="#048604" stroke-width="1.9"/>
<circle cx="852.58" cy="363.81" r="2.95" fill="#00ff00" fill-opacity="0.5" stroke="#048604" stroke-width="1.9"/>
<circle cx="860.08" cy="421.85" r="2.95" fill="#00ff00" fill-opacity="0.5" stroke="#048604" stroke-width="1.9"/>
<circle cx="867.59" cy="421.85" r="2.95" fill="#00ff00" fill-opacity="0.5" stroke="#048604" stroke-width="1.9"/>
<circle cx="875.09" cy="421.85" r="2.95" fill="#00ff00" fill-opacity="0.5" stroke="#048604" stroke-width="1.9"/>
<circle cx="882.60" cy="433.26" r="2.95" fill="#00ff00" fill-opacity="0.5" stroke="#048604" stroke-width="1.9"/>
<circle cx="890.10" cy="430.24" r="2.95" fill="#00ff00" fill-opacity="0.5" stroke="#048604" stroke-width="1.9"/>
<circle cx="897.60" cy="430.24" r="2.95" fill="#00ff00" fill-opacity="0.5" stroke="#048604" stroke-width="1.9"/>
<circle cx="905.11" cy="450.37" r="2.95" fill="#00ff00" fill-opacity="0.5" stroke="#048604" stroke-width="1.9"/>
<circle cx="912.61" cy="450.37" r="2.95" fill="#00ff00" fill-opacity="0.5" stroke="#048604" stroke-width="1.9"/>
<circle cx="920.12" cy="481.57" r="2.95" fill="#00ff00" fill-opacity="0.5" stroke="#048604" stroke-width="1.9"/>
<circle cx="927.62" cy="481.57" r="2.95" fill="#00ff00" fill-opacity="0.5" stroke="#048604" stroke-width="1.9"/>
<circle cx="935.12" cy="477.54" r="2.95" fill="#00ff00" fill-opacity="0.5" stroke="#048604" stroke-width="1.9"/>
<circle cx="942.63" cy="477.54" r="2.95" fill="#00ff00" fill-opacity="0.5" stroke="#048604" stroke-width="1.9"/>
<circle cx="950.13" cy="477.54" r="2.95" fill="#00ff00" fill-opacity="0.5" stroke="#048604" stroke-width="1.9"/>
<circle cx="957.64" cy="393.67" r="2.95" fill="#00ff00" fill-opacity="0.5" stroke="#048604" stroke-width="1.9"/>
<circle cx="965.14" cy="399.03" r="2.95" fill="#00ff00" fill-opacity="0.5" stroke="#048604" stroke-width="1.9"/>
<circle cx="972.64" cy="399.03" r="2.95" fill="#00ff00" fill-opacity="0.5" stroke="#048604" stroke-width="1.9"/>
<circle cx="980.15" cy="399.03" r="2.95" fill="#00ff00" fill-opacity="0.5" stroke="#048604" stroke-width="1.9"/>
<circle cx="987.65" cy="446.00" r="2.95" fill="#00ff00" fill-opacity="0.5" stroke="#048604" stroke-width="1.9"/>
<circle cx="995.16" cy="424.20" r="2.95" fill="#00ff00" fill-opacity="0.5" stroke="#048604" stroke-width="1.9"/>
<circle cx="1002.66" cy="424.20" r="2.95" fill="#00ff00" fill-opacity="0.5" stroke="#048604" stroke-width="1.9"/>
<circle cx="1010.16" cy="418.16" r="2.95" fill="#00ff00" fill-opacity="0.5" stroke="#048604" stroke-width="1.9"/>
<circle cx="1017.67" cy="418.16" r="2.95" fill="#00ff00" fill-opacity="0.5" stroke="#048604" stroke-width="1.9"/>
<circle cx="1025.17" cy="421.85" r="2.95" fill="#00ff00" fill-opacity="0.5" stroke="#048604" stroke-width="1.9"/>
<circle cx="1032.68" cy="421.85" r="2.95" fill="#00ff00" fill-opacity="0.5" stroke="#048604" stroke-width="1.9"/>
<circle cx="1040.18" cy="421.85" r="2.95" fill="#00ff00" fill-opacity="0.5" stroke="#048604" stroke-width="1.9"/>
<circle cx="1047.68" cy="478.55" r="2.95" fill="#00ff00" fill-opacity="0.5" stroke="#048604" stroke-width="1.9"/>
<circle cx="1055.19" cy="460.10" r="2.95" fill="#00ff00" fill-opacity="0.5" stroke="#048604" stroke-width="1.9"/>
<circle cx="1062.69" cy="460.10" r="2.95" fill="#00ff00" fill-opacity="0.5" stroke="#048604" stroke-width="1.9"/>
<circle cx="1070.20" cy="360.12" r="2.95" fill="#00ff00" fill-opacity="0.5" stroke="#048604" stroke-width="1.9"/>
<circle cx="1077.70" cy="360.12" r="2.95" fill="#00ff00" fill-opacity="0.5" stroke="#048604" stroke-width="1.9"/>
<line x1="329.50" y1="632.40" x2="329.50" y2="774.60" stroke="#c6c6c6" stroke-width="0.9"/>
<line x1="351.50" y1="632.40" x2="351.50" y2="774.60" stroke="#e0e0e0" stroke-width="0.9"/>
<line x1="373.50" y1="632.40" x2="373.50" y2="774.60" stroke="#e0e0e0" stroke-width="0.9"/>
<line x1="396.50" y1="632.40" x2="396.50" y2="774.60" stroke="#e0e0e0" stroke-width="0.9"/>
<line x1="418.50" y1="632.40" x2="418.50" y2="774.60" stroke="#e0e0e0" stroke-width="0.9"/>
<line x1="441.50" y1="632.40" x2="441.50" y2="774.60" stroke="#e0e0e0" stroke-width="0.9"/>
<line x1="463.50" y1="632.40" x2="463.50" y2="774.60" stroke="#e0e0e0" stroke-width="0.9"/>
<line x1="486.50" y1="632.40" x2="486.50" y2="774.60" stroke="#e0e0e0" stroke-width="0.9"/>
<line x1="508.50" y1="632.40" x2="508.50" y2="774.60" stroke="#e0e0e0" stroke-width="0.9"/>
<line x1="531.50" y1="632.40" x2="531.50" y2="774.60" stroke="#e0e0e0" stroke-width="0.9"/>
<line x1="553.50" y1="632.40" x2="553.50" y2="774.60" stroke="#e0e0e0" stroke-width="0.9"/>
<line x1="576.50" y1="632.40" x2="576.50" y2="774.60" stroke="#e0e0e0" stroke-width="0.9"/>
<line x1="598.50" y1="632.40" x2="598.50" y2="774.60" stroke="#e0e0e0" stroke-width="0.9"/>
<line x1="621.50" y1="632.40" x2="621.50" y2="774.60" stroke="#e0e0e0" stroke-width="0.9"/>
<line x1="643.50" y1="632.40" x2="643.50" y2="774.60" stroke="#e0e0e0" stroke-width="0.9"/>
<line x1="666.50" y1="632.40" x2="666.50" y2="774.60" stroke="#e0e0e0" stroke-width="0.9"/>
<line x1="688.50" y1="632.40" x2="688.50" y2="774.60" stroke="#e0e0e0" stroke-width="0.9"/>
<line x1="710.50" y1="632.40" x2="710.50" y2="774.60" stroke="#e0e0e0" stroke-width="0.9"/>
<line x1="733.50" y1="632.40" x2="733.50" y2="774.60" stroke="#e0e0e0" stroke-width="0.9"/>
<line x1="755.50" y1="632.40" x2="755.50" y2="774.60" stroke="#e0e0e0" stroke-width="0.9"/>
<line x1="778.50" y1="632.40" x2="778.50" y2="774.60" stroke="#e0e0e0" stroke-width="0.9"/>
<line x1="801.50" y1="632.40" x2="801.50" y2="774.60" stroke="#e0e0e0" stroke-width="0.9"/>
<line x1="823.50" y1="632.40" x2="823.50" y2="774.60" stroke="#e0e0e0" stroke-width="0.9"/>
<line x1="845.50" y1="632.40" x2="845.50" y2="774.60" stroke="#e0e0e0" stroke-width="0.9"/>
<line x1="868.50" y1="632.40" x2="868.50" y2="774.60" stroke="#e0e0e0" stroke-width="0.9"/>
<line x1="890.50" y1="632.40" x2="890.50" y2="774.60" stroke="#e0e0e0" stroke-width="0.9"/>
<line x1="913.50" y1="632.40" x2="913.50" y2="774.60" stroke="#e0e0e0" stroke-width="0.9"/>
<line x1="935.50" y1="632.40" x2="935.50" y2="774.60" stroke="#e0e0e0" stroke-width="0.9"/>
<line x1="958.50" y1="632.40" x2="958.50" y2="774.60" stroke="#e0e0e0" stroke-width="0.9"/>
<line x1="980.50" y1="632.40" x2="980.50" y2="774.60" stroke="#e0e0e0" stroke-width="0.9"/>
<line x1="1003.50" y1="632.40" x2="1003.50" y2="774.60" stroke="#e0e0e0" stroke-width="0.9"/>
<line x1="1025.50" y1="632.40" x2="1025.50" y2="774.60" stroke="#e0e0e0" stroke-width="0.9"/>
<line x1="1048.50" y1="632.40" x2="1048.50" y2="774.60" stroke="#e0e0e0" stroke-width="0.9"/>
<line x1="1070.50" y1="632.40" x2="1070.50" y2="774.60" stroke="#e0e0e0" stroke-width="0.9"/>
<line x1="321.20" y1="766.50" x2="1079.20" y2="766.50" stroke="#c6c6c6" stroke-width="0.9"/>
<text x="318.20" y="769.30" text-anchor="end" class="tk">103.0</text>
<line x1="321.20" y1="733.50" x2="1079.20" y2="733.50" stroke="#e0e0e0" stroke-width="0.9"/>
<text x="318.20" y="736.30" text-anchor="end" class="tk">103.5</text>
<line x1="321.20" y1="699.50" x2="1079.20" y2="699.50" stroke="#e0e0e0" stroke-width="0.9"/>
<text x="318.20" y="702.30" text-anchor="end" class="tk">104.0</text>
<line x1="321.20" y1="665.50" x2="1079.20" y2="665.50" stroke="#e0e0e0" stroke-width="0.9"/>
<text x="318.20" y="668.30" text-anchor="end" class="tk">104.5</text>
<line x1="321.20" y1="632.50" x2="1079.20" y2="632.50" stroke="#e0e0e0" stroke-width="0.9"/>
<text x="318.20" y="635.30" text-anchor="end" class="tk">105.0</text>
<text transform="translate(331.80,784.30) rotate(-50)" text-anchor="end" class="tk">3:58:42 PM</text>
<text transform="translate(354.27,784.30) rotate(-50)" text-anchor="end" class="tk">3:58:42 PM</text>
<text transform="translate(376.74,784.30) rotate(-50)" text-anchor="end" class="tk">3:58:43 PM</text>
<text transform="translate(399.21,784.30) rotate(-50)" text-anchor="end" class="tk">3:58:43 PM</text>
<text transform="translate(421.68,784.30) rotate(-50)" text-anchor="end" class="tk">3:58:43 PM</text>
<text transform="translate(444.15,784.30) rotate(-50)" text-anchor="end" class="tk">3:58:43 PM</text>
<text transform="translate(466.62,784.30) rotate(-50)" text-anchor="end" class="tk">3:58:43 PM</text>
<text transform="translate(489.09,784.30) rotate(-50)" text-anchor="end" class="tk">3:58:43 PM</text>
<text transform="translate(511.56,784.30) rotate(-50)" text-anchor="end" class="tk">3:58:43 PM</text>
<text transform="translate(534.03,784.30) rotate(-50)" text-anchor="end" class="tk">3:58:44 PM</text>
<text transform="translate(556.50,784.30) rotate(-50)" text-anchor="end" class="tk">3:58:44 PM</text>
<text transform="translate(578.97,784.30) rotate(-50)" text-anchor="end" class="tk">3:58:44 PM</text>
<text transform="translate(601.44,784.30) rotate(-50)" text-anchor="end" class="tk">3:58:44 PM</text>
<text transform="translate(623.91,784.30) rotate(-50)" text-anchor="end" class="tk">3:58:44 PM</text>
<text transform="translate(646.38,784.30) rotate(-50)" text-anchor="end" class="tk">3:58:44 PM</text>
<text transform="translate(668.85,784.30) rotate(-50)" text-anchor="end" class="tk">3:58:45 PM</text>
<text transform="translate(691.32,784.30) rotate(-50)" text-anchor="end" class="tk">3:58:45 PM</text>
<text transform="translate(713.79,784.30) rotate(-50)" text-anchor="end" class="tk">3:58:45 PM</text>
<text transform="translate(736.26,784.30) rotate(-50)" text-anchor="end" class="tk">3:58:45 PM</text>
<text transform="translate(758.73,784.30) rotate(-50)" text-anchor="end" class="tk">3:58:45 PM</text>
<text transform="translate(781.20,784.30) rotate(-50)" text-anchor="end" class="tk">3:58:45 PM</text>
<text transform="translate(803.67,784.30) rotate(-50)" text-anchor="end" class="tk">3:58:45 PM</text>
<text transform="translate(826.14,784.30) rotate(-50)" text-anchor="end" class="tk">3:58:46 PM</text>
<text transform="translate(848.61,784.30) rotate(-50)" text-anchor="end" class="tk">3:58:46 PM</text>
<text transform="translate(871.08,784.30) rotate(-50)" text-anchor="end" class="tk">3:58:46 PM</text>
<text transform="translate(893.55,784.30) rotate(-50)" text-anchor="end" class="tk">3:58:46 PM</text>
<text transform="translate(916.02,784.30) rotate(-50)" text-anchor="end" class="tk">3:58:46 PM</text>
<text transform="translate(938.49,784.30) rotate(-50)" text-anchor="end" class="tk">3:58:46 PM</text>
<text transform="translate(960.96,784.30) rotate(-50)" text-anchor="end" class="tk">3:58:46 PM</text>
<text transform="translate(983.43,784.30) rotate(-50)" text-anchor="end" class="tk">3:58:47 PM</text>
<text transform="translate(1005.90,784.30) rotate(-50)" text-anchor="end" class="tk">3:58:47 PM</text>
<text transform="translate(1028.37,784.30) rotate(-50)" text-anchor="end" class="tk">3:58:47 PM</text>
<text transform="translate(1050.84,784.30) rotate(-50)" text-anchor="end" class="tk">3:58:47 PM</text>
<text transform="translate(1073.31,784.30) rotate(-50)" text-anchor="end" class="tk">3:58:47 PM</text>
<polyline points="329.20,699.50 336.69,699.50 344.18,699.50 351.67,699.50 359.16,699.50 366.65,699.50 374.14,699.50 381.63,699.50 389.12,699.50 396.61,699.50 404.10,699.50 411.59,699.50 419.08,699.50 426.57,699.50 434.06,699.50 441.55,699.50 449.04,699.50 456.53,699.50 464.02,699.50 471.51,699.50 479.00,699.50 486.49,699.50 493.98,699.50 501.47,766.60 508.96,766.60 516.45,766.60 523.94,766.60 531.43,766.60 538.92,766.60 546.41,766.60 553.90,766.60 561.39,766.60 568.88,766.60 576.37,766.60 583.86,766.60 591.35,699.50 598.84,699.50 606.33,632.40 613.82,632.40 621.31,699.50 628.80,699.50 636.29,699.50 643.78,699.50 651.27,699.50 658.76,699.50 666.25,699.50 673.74,699.50 681.23,699.50 688.72,699.50 696.21,699.50 703.70,699.50 711.19,632.40 718.68,632.40 726.17,632.40 733.66,632.40 741.15,699.50 748.64,699.50 756.13,699.50 763.62,699.50 771.11,699.50 778.60,699.50 786.09,699.50 793.58,699.50 801.07,699.50 808.56,699.50 816.05,699.50 823.54,699.50 831.03,632.40 838.52,632.40 846.01,699.50 853.50,699.50 860.99,699.50 868.48,699.50 875.97,699.50 883.46,699.50 890.95,699.50 898.44,699.50 905.93,699.50 913.42,699.50 920.91,699.50 928.40,699.50 935.89,699.50 943.38,699.50 950.87,632.40 958.36,632.40 965.85,699.50 973.34,699.50 980.83,699.50 988.32,699.50 995.81,699.50 1003.30,699.50 1010.79,699.50 1018.28,699.50 1025.77,699.50 1033.26,699.50 1040.75,699.50 1048.24,699.50 1055.73,699.50 1063.22,699.50 1070.71,699.50 1078.20,699.50" fill="none" stroke="#ff0000" stroke-width="2.4" stroke-linejoin="round"/>
<circle cx="329.20" cy="699.50" r="2.95" fill="#ff0000" fill-opacity="0.5" stroke="#ff0000" stroke-width="1.9"/>
<circle cx="336.69" cy="699.50" r="2.95" fill="#ff0000" fill-opacity="0.5" stroke="#ff0000" stroke-width="1.9"/>
<circle cx="344.18" cy="699.50" r="2.95" fill="#ff0000" fill-opacity="0.5" stroke="#ff0000" stroke-width="1.9"/>
<circle cx="351.67" cy="699.50" r="2.95" fill="#ff0000" fill-opacity="0.5" stroke="#ff0000" stroke-width="1.9"/>
<circle cx="359.16" cy="699.50" r="2.95" fill="#ff0000" fill-opacity="0.5" stroke="#ff0000" stroke-width="1.9"/>
<circle cx="366.65" cy="699.50" r="2.95" fill="#ff0000" fill-opacity="0.5" stroke="#ff0000" stroke-width="1.9"/>
<circle cx="374.14" cy="699.50" r="2.95" fill="#ff0000" fill-opacity="0.5" stroke="#ff0000" stroke-width="1.9"/>
<circle cx="381.63" cy="699.50" r="2.95" fill="#ff0000" fill-opacity="0.5" stroke="#ff0000" stroke-width="1.9"/>
<circle cx="389.12" cy="699.50" r="2.95" fill="#ff0000" fill-opacity="0.5" stroke="#ff0000" stroke-width="1.9"/>
<circle cx="396.61" cy="699.50" r="2.95" fill="#ff0000" fill-opacity="0.5" stroke="#ff0000" stroke-width="1.9"/>
<circle cx="404.10" cy="699.50" r="2.95" fill="#ff0000" fill-opacity="0.5" stroke="#ff0000" stroke-width="1.9"/>
<circle cx="411.59" cy="699.50" r="2.95" fill="#ff0000" fill-opacity="0.5" stroke="#ff0000" stroke-width="1.9"/>
<circle cx="419.08" cy="699.50" r="2.95" fill="#ff0000" fill-opacity="0.5" stroke="#ff0000" stroke-width="1.9"/>
<circle cx="426.57" cy="699.50" r="2.95" fill="#ff0000" fill-opacity="0.5" stroke="#ff0000" stroke-width="1.9"/>
<circle cx="434.06" cy="699.50" r="2.95" fill="#ff0000" fill-opacity="0.5" stroke="#ff0000" stroke-width="1.9"/>
<circle cx="441.55" cy="699.50" r="2.95" fill="#ff0000" fill-opacity="0.5" stroke="#ff0000" stroke-width="1.9"/>
<circle cx="449.04" cy="699.50" r="2.95" fill="#ff0000" fill-opacity="0.5" stroke="#ff0000" stroke-width="1.9"/>
<circle cx="456.53" cy="699.50" r="2.95" fill="#ff0000" fill-opacity="0.5" stroke="#ff0000" stroke-width="1.9"/>
<circle cx="464.02" cy="699.50" r="2.95" fill="#ff0000" fill-opacity="0.5" stroke="#ff0000" stroke-width="1.9"/>
<circle cx="471.51" cy="699.50" r="2.95" fill="#ff0000" fill-opacity="0.5" stroke="#ff0000" stroke-width="1.9"/>
<circle cx="479.00" cy="699.50" r="2.95" fill="#ff0000" fill-opacity="0.5" stroke="#ff0000" stroke-width="1.9"/>
<circle cx="486.49" cy="699.50" r="2.95" fill="#ff0000" fill-opacity="0.5" stroke="#ff0000" stroke-width="1.9"/>
<circle cx="493.98" cy="699.50" r="2.95" fill="#ff0000" fill-opacity="0.5" stroke="#ff0000" stroke-width="1.9"/>
<circle cx="501.47" cy="766.60" r="2.95" fill="#ff0000" fill-opacity="0.5" stroke="#ff0000" stroke-width="1.9"/>
<circle cx="508.96" cy="766.60" r="2.95" fill="#ff0000" fill-opacity="0.5" stroke="#ff0000" stroke-width="1.9"/>
<circle cx="516.45" cy="766.60" r="2.95" fill="#ff0000" fill-opacity="0.5" stroke="#ff0000" stroke-width="1.9"/>
<circle cx="523.94" cy="766.60" r="2.95" fill="#ff0000" fill-opacity="0.5" stroke="#ff0000" stroke-width="1.9"/>
<circle cx="531.43" cy="766.60" r="2.95" fill="#ff0000" fill-opacity="0.5" stroke="#ff0000" stroke-width="1.9"/>
<circle cx="538.92" cy="766.60" r="2.95" fill="#ff0000" fill-opacity="0.5" stroke="#ff0000" stroke-width="1.9"/>
<circle cx="546.41" cy="766.60" r="2.95" fill="#ff0000" fill-opacity="0.5" stroke="#ff0000" stroke-width="1.9"/>
<circle cx="553.90" cy="766.60" r="2.95" fill="#ff0000" fill-opacity="0.5" stroke="#ff0000" stroke-width="1.9"/>
<circle cx="561.39" cy="766.60" r="2.95" fill="#ff0000" fill-opacity="0.5" stroke="#ff0000" stroke-width="1.9"/>
<circle cx="568.88" cy="766.60" r="2.95" fill="#ff0000" fill-opacity="0.5" stroke="#ff0000" stroke-width="1.9"/>
<circle cx="576.37" cy="766.60" r="2.95" fill="#ff0000" fill-opacity="0.5" stroke="#ff0000" stroke-width="1.9"/>
<circle cx="583.86" cy="766.60" r="2.95" fill="#ff0000" fill-opacity="0.5" stroke="#ff0000" stroke-width="1.9"/>
<circle cx="591.35" cy="699.50" r="2.95" fill="#ff0000" fill-opacity="0.5" stroke="#ff0000" stroke-width="1.9"/>
<circle cx="598.84" cy="699.50" r="2.95" fill="#ff0000" fill-opacity="0.5" stroke="#ff0000" stroke-width="1.9"/>
<circle cx="606.33" cy="632.40" r="2.95" fill="#ff0000" fill-opacity="0.5" stroke="#ff0000" stroke-width="1.9"/>
<circle cx="613.82" cy="632.40" r="2.95" fill="#ff0000" fill-opacity="0.5" stroke="#ff0000" stroke-width="1.9"/>
<circle cx="621.31" cy="699.50" r="2.95" fill="#ff0000" fill-opacity="0.5" stroke="#ff0000" stroke-width="1.9"/>
<circle cx="628.80" cy="699.50" r="2.95" fill="#ff0000" fill-opacity="0.5" stroke="#ff0000" stroke-width="1.9"/>
<circle cx="636.29" cy="699.50" r="2.95" fill="#ff0000" fill-opacity="0.5" stroke="#ff0000" stroke-width="1.9"/>
<circle cx="643.78" cy="699.50" r="2.95" fill="#ff0000" fill-opacity="0.5" stroke="#ff0000" stroke-width="1.9"/>
<circle cx="651.27" cy="699.50" r="2.95" fill="#ff0000" fill-opacity="0.5" stroke="#ff0000" stroke-width="1.9"/>
<circle cx="658.76" cy="699.50" r="2.95" fill="#ff0000" fill-opacity="0.5" stroke="#ff0000" stroke-width="1.9"/>
<circle cx="666.25" cy="699.50" r="2.95" fill="#ff0000" fill-opacity="0.5" stroke="#ff0000" stroke-width="1.9"/>
<circle cx="673.74" cy="699.50" r="2.95" fill="#ff0000" fill-opacity="0.5" stroke="#ff0000" stroke-width="1.9"/>
<circle cx="681.23" cy="699.50" r="2.95" fill="#ff0000" fill-opacity="0.5" stroke="#ff0000" stroke-width="1.9"/>
<circle cx="688.72" cy="699.50" r="2.95" fill="#ff0000" fill-opacity="0.5" stroke="#ff0000" stroke-width="1.9"/>
<circle cx="696.21" cy="699.50" r="2.95" fill="#ff0000" fill-opacity="0.5" stroke="#ff0000" stroke-width="1.9"/>
<circle cx="703.70" cy="699.50" r="2.95" fill="#ff0000" fill-opacity="0.5" stroke="#ff0000" stroke-width="1.9"/>
<circle cx="711.19" cy="632.40" r="2.95" fill="#ff0000" fill-opacity="0.5" stroke="#ff0000" stroke-width="1.9"/>
<circle cx="718.68" cy="632.40" r="2.95" fill="#ff0000" fill-opacity="0.5" stroke="#ff0000" stroke-width="1.9"/>
<circle cx="726.17" cy="632.40" r="2.95" fill="#ff0000" fill-opacity="0.5" stroke="#ff0000" stroke-width="1.9"/>
<circle cx="733.66" cy="632.40" r="2.95" fill="#ff0000" fill-opacity="0.5" stroke="#ff0000" stroke-width="1.9"/>
<circle cx="741.15" cy="699.50" r="2.95" fill="#ff0000" fill-opacity="0.5" stroke="#ff0000" stroke-width="1.9"/>
<circle cx="748.64" cy="699.50" r="2.95" fill="#ff0000" fill-opacity="0.5" stroke="#ff0000" stroke-width="1.9"/>
<circle cx="756.13" cy="699.50" r="2.95" fill="#ff0000" fill-opacity="0.5" stroke="#ff0000" stroke-width="1.9"/>
<circle cx="763.62" cy="699.50" r="2.95" fill="#ff0000" fill-opacity="0.5" stroke="#ff0000" stroke-width="1.9"/>
<circle cx="771.11" cy="699.50" r="2.95" fill="#ff0000" fill-opacity="0.5" stroke="#ff0000" stroke-width="1.9"/>
<circle cx="778.60" cy="699.50" r="2.95" fill="#ff0000" fill-opacity="0.5" stroke="#ff0000" stroke-width="1.9"/>
<circle cx="786.09" cy="699.50" r="2.95" fill="#ff0000" fill-opacity="0.5" stroke="#ff0000" stroke-width="1.9"/>
<circle cx="793.58" cy="699.50" r="2.95" fill="#ff0000" fill-opacity="0.5" stroke="#ff0000" stroke-width="1.9"/>
<circle cx="801.07" cy="699.50" r="2.95" fill="#ff0000" fill-opacity="0.5" stroke="#ff0000" stroke-width="1.9"/>
<circle cx="808.56" cy="699.50" r="2.95" fill="#ff0000" fill-opacity="0.5" stroke="#ff0000" stroke-width="1.9"/>
<circle cx="816.05" cy="699.50" r="2.95" fill="#ff0000" fill-opacity="0.5" stroke="#ff0000" stroke-width="1.9"/>
<circle cx="823.54" cy="699.50" r="2.95" fill="#ff0000" fill-opacity="0.5" stroke="#ff0000" stroke-width="1.9"/>
<circle cx="831.03" cy="632.40" r="2.95" fill="#ff0000" fill-opacity="0.5" stroke="#ff0000" stroke-width="1.9"/>
<circle cx="838.52" cy="632.40" r="2.95" fill="#ff0000" fill-opacity="0.5" stroke="#ff0000" stroke-width="1.9"/>
<circle cx="846.01" cy="699.50" r="2.95" fill="#ff0000" fill-opacity="0.5" stroke="#ff0000" stroke-width="1.9"/>
<circle cx="853.50" cy="699.50" r="2.95" fill="#ff0000" fill-opacity="0.5" stroke="#ff0000" stroke-width="1.9"/>
<circle cx="860.99" cy="699.50" r="2.95" fill="#ff0000" fill-opacity="0.5" stroke="#ff0000" stroke-width="1.9"/>
<circle cx="868.48" cy="699.50" r="2.95" fill="#ff0000" fill-opacity="0.5" stroke="#ff0000" stroke-width="1.9"/>
<circle cx="875.97" cy="699.50" r="2.95" fill="#ff0000" fill-opacity="0.5" stroke="#ff0000" stroke-width="1.9"/>
<circle cx="883.46" cy="699.50" r="2.95" fill="#ff0000" fill-opacity="0.5" stroke="#ff0000" stroke-width="1.9"/>
<circle cx="890.95" cy="699.50" r="2.95" fill="#ff0000" fill-opacity="0.5" stroke="#ff0000" stroke-width="1.9"/>
<circle cx="898.44" cy="699.50" r="2.95" fill="#ff0000" fill-opacity="0.5" stroke="#ff0000" stroke-width="1.9"/>
<circle cx="905.93" cy="699.50" r="2.95" fill="#ff0000" fill-opacity="0.5" stroke="#ff0000" stroke-width="1.9"/>
<circle cx="913.42" cy="699.50" r="2.95" fill="#ff0000" fill-opacity="0.5" stroke="#ff0000" stroke-width="1.9"/>
<circle cx="920.91" cy="699.50" r="2.95" fill="#ff0000" fill-opacity="0.5" stroke="#ff0000" stroke-width="1.9"/>
<circle cx="928.40" cy="699.50" r="2.95" fill="#ff0000" fill-opacity="0.5" stroke="#ff0000" stroke-width="1.9"/>
<circle cx="935.89" cy="699.50" r="2.95" fill="#ff0000" fill-opacity="0.5" stroke="#ff0000" stroke-width="1.9"/>
<circle cx="943.38" cy="699.50" r="2.95" fill="#ff0000" fill-opacity="0.5" stroke="#ff0000" stroke-width="1.9"/>
<circle cx="950.87" cy="632.40" r="2.95" fill="#ff0000" fill-opacity="0.5" stroke="#ff0000" stroke-width="1.9"/>
<circle cx="958.36" cy="632.40" r="2.95" fill="#ff0000" fill-opacity="0.5" stroke="#ff0000" stroke-width="1.9"/>
<circle cx="965.85" cy="699.50" r="2.95" fill="#ff0000" fill-opacity="0.5" stroke="#ff0000" stroke-width="1.9"/>
<circle cx="973.34" cy="699.50" r="2.95" fill="#ff0000" fill-opacity="0.5" stroke="#ff0000" stroke-width="1.9"/>
<circle cx="980.83" cy="699.50" r="2.95" fill="#ff0000" fill-opacity="0.5" stroke="#ff0000" stroke-width="1.9"/>
<circle cx="988.32" cy="699.50" r="2.95" fill="#ff0000" fill-opacity="0.5" stroke="#ff0000" stroke-width="1.9"/>
<circle cx="995.81" cy="699.50" r="2.95" fill="#ff0000" fill-opacity="0.5" stroke="#ff0000" stroke-width="1.9"/>
<circle cx="1003.30" cy="699.50" r="2.95" fill="#ff0000" fill-opacity="0.5" stroke="#ff0000" stroke-width="1.9"/>
<circle cx="1010.79" cy="699.50" r="2.95" fill="#ff0000" fill-opacity="0.5" stroke="#ff0000" stroke-width="1.9"/>
<circle cx="1018.28" cy="699.50" r="2.95" fill="#ff0000" fill-opacity="0.5" stroke="#ff0000" stroke-width="1.9"/>
<circle cx="1025.77" cy="699.50" r="2.95" fill="#ff0000" fill-opacity="0.5" stroke="#ff0000" stroke-width="1.9"/>
<circle cx="1033.26" cy="699.50" r="2.95" fill="#ff0000" fill-opacity="0.5" stroke="#ff0000" stroke-width="1.9"/>
<circle cx="1040.75" cy="699.50" r="2.95" fill="#ff0000" fill-opacity="0.5" stroke="#ff0000" stroke-width="1.9"/>
<circle cx="1048.24" cy="699.50" r="2.95" fill="#ff0000" fill-opacity="0.5" stroke="#ff0000" stroke-width="1.9"/>
<circle cx="1055.73" cy="699.50" r="2.95" fill="#ff0000" fill-opacity="0.5" stroke="#ff0000" stroke-width="1.9"/>
<circle cx="1063.22" cy="699.50" r="2.95" fill="#ff0000" fill-opacity="0.5" stroke="#ff0000" stroke-width="1.9"/>
<circle cx="1070.71" cy="699.50" r="2.95" fill="#ff0000" fill-opacity="0.5" stroke="#ff0000" stroke-width="1.9"/>
<circle cx="1078.20" cy="699.50" r="2.95" fill="#ff0000" fill-opacity="0.5" stroke="#ff0000" stroke-width="1.9"/>
<path d="M813.600 745.400V761.300Q813.600 762.200 814.600 761.600L817.700 758.400L820.300 763.500Q820.800 764.200 821.600 763.800L822.400 763.300Q823 762.800 822.700 762.200L820.500 757.600L824.200 757.300Q825.300 757 824.500 756.200Z" fill="#fff" stroke="#14141e" stroke-width=".95" stroke-linejoin="round"/>
</svg>

<!-- main bottom border / tab -->
<div class="abs" style="left:241px;top:877px;width:903px;height:20px;background:#efefef"></div>
<div class="abs" style="left:312px;top:876.3px;width:832px;height:1.8px;background:#696969"></div>
<div class="abs" style="left:241px;top:877px;width:71.8px;height:19.5px;background:#efefef;border-right:2px solid #696969;border-bottom:2px solid #696969;border-left:1px solid #fff;border-radius:0 0 3px 0"></div>
<div class="abs" style="left:241px;top:897px;width:903px;height:5px;background:#dcdcdc"></div>

<!-- variable watch -->
<div class="hdr" style="left:240.5px;top:901px;width:903.5px;height:19px;line-height:17px"></div>
<div class="abs" style="left:241px;top:920px;width:903px;height:71px;background:#fff"></div>
<svg class="abs" style="left:241px;top:920px" width="903" height="71" viewBox="241 920 903 71" shape-rendering="crispEdges">
<rect x="241" y="920" width="887" height="16" fill="#efefef"/>
<rect x="241" y="936" width="14" height="55" fill="#efefef"/>
<g stroke="#fff" stroke-width="1" fill="none"><path d="M241 921.500h887"/></g>
<g stroke="#808080" stroke-width="1" fill="none">
<path d="M241 935.500h887"/>
<path d="M255.500 921v70M375.500 921v15M495.500 921v15M615.500 921v15M685.500 921v15"/><path d="M1127.500 921v70" stroke="#c8c8c8"/>
<path d="M241.500 950.500h14M241.500 965.500h14M241.500 980.500h14" stroke="#8c8c8c"/>
</g>
<g stroke="#d4d4d4" stroke-width="1" fill="none">
<path d="M256 950.500h871M256 965.500h871M256 980.500h871"/>
<path d="M375.500 936v55M495.500 936v55M615.500 936v55M685.500 936v55"/>
</g>
<g stroke="#fff" stroke-width="1" fill="none"><path d="M256.500 922v13M376.500 922v13M496.500 922v13M616.500 922v13M686.500 922v13"/></g>
<!-- scrollbar -->
<rect x="1128" y="920" width="16" height="71" fill="#f6f6f6"/>
<rect x="1128" y="921" width="16" height="17" fill="#f0f0f0"/><path d="M1128.5 937V921.5H1143" fill="none" stroke="#fff" stroke-width="1"/><path d="M1129 936.5H1142.5V922" fill="none" stroke="#a0a0a0" stroke-width="1"/><path d="M1128 937.5H1143.5V921" fill="none" stroke="#696969" stroke-width="1"/><rect x="1128" y="938" width="16" height="22.5" fill="#f0f0f0"/><path d="M1128.5 959.5V938.5H1143" fill="none" stroke="#fff" stroke-width="1"/><path d="M1129 959.0H1142.5V939" fill="none" stroke="#a0a0a0" stroke-width="1"/><path d="M1128 960.0H1143.5V938" fill="none" stroke="#696969" stroke-width="1"/><rect x="1128" y="974" width="16" height="16" fill="#f0f0f0"/><path d="M1128.5 989V974.5H1143" fill="none" stroke="#fff" stroke-width="1"/><path d="M1129 988.5H1142.5V975" fill="none" stroke="#a0a0a0" stroke-width="1"/><path d="M1128 989.5H1143.5V974" fill="none" stroke="#696969" stroke-width="1"/>
</svg>
<svg class="abs" style="left:1128px;top:920px" width="16" height="71" viewBox="1128 920 16 71"><path d="M1132 932h7.600l-3.800-4.300z" fill="#000"/><path d="M1132 980h7.600l-3.800 4.300z" fill="#000"/></svg>








<!-- header buttons -->
<svg class="abs" style="left:1088px;top:901px" width="56" height="19" viewBox="1088 901 56 19"><path d="M1097 908.500h9l-4.500 4.500z" fill="#fff"/><path d="M1115.500 907.500h5v5.500h-5zM1114 913.500h8M1118 913.500v3.500" fill="none" stroke="#fff" stroke-width="1.200"/><path d="M1119.500 908v5" stroke="#fff" stroke-width="1.200"/><path d="M1130.500 906.500l8 8M1138.500 906.500l-8 8" stroke="#fff" stroke-width="1.400"/></svg>


<!-- status bar -->
<div class="abs" style="left:0;top:990.4px;width:1145px;height:19px;background:#f0f0f0"></div>

<div class="abs" style="left:1071.5px;top:992px;width:1px;height:16px;background:#d2d2d2"></div><div class="abs" style="left:1127.5px;top:992px;width:1px;height:16px;background:#d2d2d2"></div>
<svg class="abs" style="left:1130px;top:995px" width="14" height="14" viewBox="0 0 14 14" fill="#b8b8b8"><rect x="10" y="3" width="2" height="2"/><rect x="7" y="6" width="2" height="2"/><rect x="10" y="6" width="2" height="2"/><rect x="4" y="9" width="2" height="2"/><rect x="7" y="9" width="2" height="2"/><rect x="10" y="9" width="2" height="2"/></svg>
<svg class="abs" style="left:0;top:0" width="1148" height="1009" viewBox="0 0 1148 1009" font-family="Liberation Sans, sans-serif">
<text x="31.4" y="19.7" font-size="12.4" fill="#000" stroke="#000" stroke-width="0.22" textLength="162.3" lengthAdjust="spacingAndGlyphs">heart_rate.pmpx - FreeMASTER</text>
<text x="17.2" y="46.7" font-size="11.3" fill="#000" stroke="#000" stroke-width="0.22" textLength="18.3" lengthAdjust="spacingAndGlyphs">File</text>
<text x="50.2" y="46.7" font-size="11.3" fill="#000" stroke="#000" stroke-width="0.22" textLength="19.8" lengthAdjust="spacingAndGlyphs">Edit</text>
<text x="85.2" y="46.7" font-size="11.3" fill="#000" stroke="#000" stroke-width="0.22" textLength="25.1" lengthAdjust="spacingAndGlyphs">View</text>
<text x="125.5" y="46.7" font-size="11.3" fill="#000" stroke="#000" stroke-width="0.22" textLength="41.8" lengthAdjust="spacingAndGlyphs">Explorer</text>
<text x="181.9" y="46.7" font-size="11.3" fill="#000" stroke="#000" stroke-width="0.22" textLength="35.0" lengthAdjust="spacingAndGlyphs">Project</text>
<text x="231.6" y="46.7" font-size="11.3" fill="#000" stroke="#000" stroke-width="0.22" textLength="27.2" lengthAdjust="spacingAndGlyphs">Tools</text>
<text x="275.5" y="46.7" font-size="11.3" fill="#000" stroke="#000" stroke-width="0.22" textLength="23.5" lengthAdjust="spacingAndGlyphs">Help</text>
<text x="4.4" y="93.9" font-size="10.2" fill="#ffffff" stroke="#fff" stroke-width="0.15" textLength="58.3" lengthAdjust="spacingAndGlyphs">Project Tree</text>
<text x="4.2" y="539.7" font-size="10.2" fill="#ffffff" stroke="#fff" stroke-width="0.15" textLength="87.3" lengthAdjust="spacingAndGlyphs">Variable Stimulus</text>
<text x="244.3" y="914.6" font-size="10" fill="#ffffff" stroke="#fff" stroke-width="0.15" textLength="76.3" lengthAdjust="spacingAndGlyphs">Variable Watch</text>
<text x="21.7" y="112.5" font-size="11.5" fill="#fff" stroke="#fff" stroke-width="0.15" textLength="53.3" lengthAdjust="spacingAndGlyphs">Heart_rate</text>
<text x="40.5" y="130.9" font-size="11.5" fill="#000" stroke="#000" stroke-width="0.22" textLength="51.7" lengthAdjust="spacingAndGlyphs">heart_rate</text>
<text x="40.5" y="148.7" font-size="11.5" fill="#000" stroke="#000" stroke-width="0.22" textLength="24.3" lengthAdjust="spacingAndGlyphs">spo2</text>
<text x="40.5" y="166.6" font-size="11.5" fill="#000" stroke="#000" stroke-width="0.22" textLength="21.4" lengthAdjust="spacingAndGlyphs">ECG</text>
<text x="24.2" y="981.9" font-size="11" fill="#808080" textLength="84.5" lengthAdjust="spacingAndGlyphs">Application Co...</text>
<text x="139.3" y="981.9" font-size="11" fill="#000" stroke="#000" stroke-width="0.22" textLength="87.2" lengthAdjust="spacingAndGlyphs">Variable Stimulus</text>
<text x="4.5" y="1004.6" font-size="10.8" fill="#000" stroke="#000" stroke-width="0.22" textLength="30.6" lengthAdjust="spacingAndGlyphs">Ready</text>
<text x="491.8" y="1003.9" font-size="10.8" fill="#6d6d6d" textLength="406.0" lengthAdjust="spacingAndGlyphs">JLINK;coretype=14;commspeed=10000;devicesnenable=1;devicesn=1069779853</text>
<text x="248" y="891.7" font-size="10.5" fill="#000" stroke="#000" stroke-width="0.22" textLength="57.0" lengthAdjust="spacingAndGlyphs">control page</text>
<text x="301.3" y="932.6" font-size="10.5" fill="#000" stroke="#000" stroke-width="0.22" textLength="26.7" lengthAdjust="spacingAndGlyphs">Name</text>
<text x="422.6" y="932.6" font-size="10.5" fill="#000" stroke="#000" stroke-width="0.22" textLength="25.6" lengthAdjust="spacingAndGlyphs">Value</text>
<text x="545.2" y="932.6" font-size="10.5" fill="#000" stroke="#000" stroke-width="0.22" textLength="19.8" lengthAdjust="spacingAndGlyphs">Unit</text>
<text x="623.1" y="932.6" font-size="10.5" fill="#000" stroke="#000" stroke-width="0.22" textLength="53.6" lengthAdjust="spacingAndGlyphs">Period [ms]</text>
<text x="883.2" y="932.6" font-size="10.5" fill="#000" stroke="#000" stroke-width="0.22" textLength="46.0" lengthAdjust="spacingAndGlyphs">Comment</text>
<text x="259.3" y="947" font-size="10.5" fill="#000" stroke="#000" stroke-width="0.22" textLength="52.0" lengthAdjust="spacingAndGlyphs">heart_rate</text>
<text x="259.3" y="962" font-size="10.5" fill="#000" stroke="#000" stroke-width="0.22" textLength="23.5" lengthAdjust="spacingAndGlyphs">spo2</text>
<text x="259.3" y="976.8" font-size="10.5" fill="#000" stroke="#000" stroke-width="0.22" textLength="29.0" lengthAdjust="spacingAndGlyphs">g_ecg</text>
<text x="379.7" y="947" font-size="10.5" fill="#000" stroke="#000" stroke-width="0.22" textLength="12.0" lengthAdjust="spacingAndGlyphs">93</text>
<text x="379.7" y="962" font-size="10.5" fill="#000" stroke="#000" stroke-width="0.22" textLength="18.3" lengthAdjust="spacingAndGlyphs">104</text>
<text x="379.7" y="976.8" font-size="10.5" fill="#000" stroke="#000" stroke-width="0.22" textLength="18.3" lengthAdjust="spacingAndGlyphs">377</text>
<text x="499.1" y="947" font-size="10.5" fill="#000" stroke="#000" stroke-width="0.22" textLength="19.8" lengthAdjust="spacingAndGlyphs">DEC</text>
<text x="499.1" y="962" font-size="10.5" fill="#000" stroke="#000" stroke-width="0.22" textLength="19.8" lengthAdjust="spacingAndGlyphs">DEC</text>
<text x="499.1" y="976.8" font-size="10.5" fill="#000" stroke="#000" stroke-width="0.22" textLength="19.8" lengthAdjust="spacingAndGlyphs">DEC</text>
<text x="620.4" y="947" font-size="10.5" fill="#000" stroke="#000" stroke-width="0.22" textLength="16.7" lengthAdjust="spacingAndGlyphs">100</text>
<text x="620.4" y="962" font-size="10.5" fill="#000" stroke="#000" stroke-width="0.22" textLength="16.7" lengthAdjust="spacingAndGlyphs">100</text>
<text x="620.4" y="976.8" font-size="10.5" fill="#000" stroke="#000" stroke-width="0.22" textLength="16.7" lengthAdjust="spacingAndGlyphs">100</text>
<text x="740.9" y="71.5" font-size="10.8" fill="#6d6d6d" textLength="39.8" lengthAdjust="spacingAndGlyphs">Tahoma</text>
<text x="899.2" y="71.8" font-size="10.8" fill="#6d6d6d" textLength="6.4" lengthAdjust="spacingAndGlyphs">8</text>
</svg>
<div class="abs" style="left:1143.5px;top:0;width:2.2px;height:1009px;background:#6a6a6a"></div>
<!-- markers -->
<div class="marker" style="left:75.9px;top:90.8px">1</div>
<div class="marker" style="left:227.7px;top:917.7px">2</div>
<div class="marker" style="left:271.8px;top:258.7px">3</div>
</div>
</body></html>
